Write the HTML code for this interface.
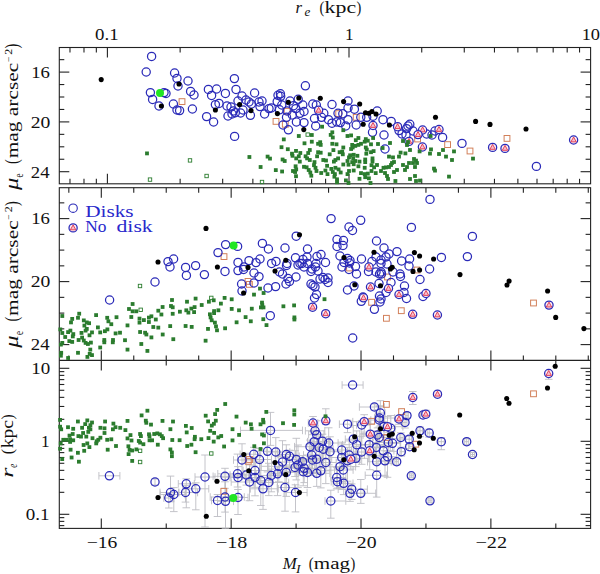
<!DOCTYPE html>
<html><head><meta charset="utf-8"><style>
html,body{margin:0;padding:0;background:#fff;}
svg{display:block;}
text{font-family:"Liberation Serif",serif;}
</style></head><body>
<svg width="600" height="574" viewBox="0 0 600 574">
<rect width="600" height="574" fill="#fff"/>
<rect x="59.3" y="47.5" width="531.30" height="136.30" fill="none" stroke="#222" stroke-width="1.1"/>
<rect x="59.3" y="187.7" width="531.30" height="340.70" fill="none" stroke="#222" stroke-width="1.1"/>
<line x1="59.30" y1="360.40" x2="590.60" y2="360.40" stroke="#222" stroke-width="1.1"/>
<line x1="69.98" y1="47.50" x2="69.98" y2="52.50" stroke="#222" stroke-width="1.1"/>
<line x1="69.98" y1="183.80" x2="69.98" y2="178.80" stroke="#222" stroke-width="1.1"/>
<line x1="83.99" y1="47.50" x2="83.99" y2="52.50" stroke="#222" stroke-width="1.1"/>
<line x1="83.99" y1="183.80" x2="83.99" y2="178.80" stroke="#222" stroke-width="1.1"/>
<line x1="96.34" y1="47.50" x2="96.34" y2="52.50" stroke="#222" stroke-width="1.1"/>
<line x1="96.34" y1="183.80" x2="96.34" y2="178.80" stroke="#222" stroke-width="1.1"/>
<line x1="107.40" y1="47.50" x2="107.40" y2="57.50" stroke="#222" stroke-width="1.1"/>
<line x1="107.40" y1="183.80" x2="107.40" y2="173.80" stroke="#222" stroke-width="1.1"/>
<line x1="180.13" y1="47.50" x2="180.13" y2="52.50" stroke="#222" stroke-width="1.1"/>
<line x1="180.13" y1="183.80" x2="180.13" y2="178.80" stroke="#222" stroke-width="1.1"/>
<line x1="222.67" y1="47.50" x2="222.67" y2="52.50" stroke="#222" stroke-width="1.1"/>
<line x1="222.67" y1="183.80" x2="222.67" y2="178.80" stroke="#222" stroke-width="1.1"/>
<line x1="252.86" y1="47.50" x2="252.86" y2="52.50" stroke="#222" stroke-width="1.1"/>
<line x1="252.86" y1="183.80" x2="252.86" y2="178.80" stroke="#222" stroke-width="1.1"/>
<line x1="276.27" y1="47.50" x2="276.27" y2="52.50" stroke="#222" stroke-width="1.1"/>
<line x1="276.27" y1="183.80" x2="276.27" y2="178.80" stroke="#222" stroke-width="1.1"/>
<line x1="295.40" y1="47.50" x2="295.40" y2="52.50" stroke="#222" stroke-width="1.1"/>
<line x1="295.40" y1="183.80" x2="295.40" y2="178.80" stroke="#222" stroke-width="1.1"/>
<line x1="311.58" y1="47.50" x2="311.58" y2="52.50" stroke="#222" stroke-width="1.1"/>
<line x1="311.58" y1="183.80" x2="311.58" y2="178.80" stroke="#222" stroke-width="1.1"/>
<line x1="325.59" y1="47.50" x2="325.59" y2="52.50" stroke="#222" stroke-width="1.1"/>
<line x1="325.59" y1="183.80" x2="325.59" y2="178.80" stroke="#222" stroke-width="1.1"/>
<line x1="337.94" y1="47.50" x2="337.94" y2="52.50" stroke="#222" stroke-width="1.1"/>
<line x1="337.94" y1="183.80" x2="337.94" y2="178.80" stroke="#222" stroke-width="1.1"/>
<line x1="349.00" y1="47.50" x2="349.00" y2="57.50" stroke="#222" stroke-width="1.1"/>
<line x1="349.00" y1="183.80" x2="349.00" y2="173.80" stroke="#222" stroke-width="1.1"/>
<line x1="421.73" y1="47.50" x2="421.73" y2="52.50" stroke="#222" stroke-width="1.1"/>
<line x1="421.73" y1="183.80" x2="421.73" y2="178.80" stroke="#222" stroke-width="1.1"/>
<line x1="464.27" y1="47.50" x2="464.27" y2="52.50" stroke="#222" stroke-width="1.1"/>
<line x1="464.27" y1="183.80" x2="464.27" y2="178.80" stroke="#222" stroke-width="1.1"/>
<line x1="494.46" y1="47.50" x2="494.46" y2="52.50" stroke="#222" stroke-width="1.1"/>
<line x1="494.46" y1="183.80" x2="494.46" y2="178.80" stroke="#222" stroke-width="1.1"/>
<line x1="517.87" y1="47.50" x2="517.87" y2="52.50" stroke="#222" stroke-width="1.1"/>
<line x1="517.87" y1="183.80" x2="517.87" y2="178.80" stroke="#222" stroke-width="1.1"/>
<line x1="537.00" y1="47.50" x2="537.00" y2="52.50" stroke="#222" stroke-width="1.1"/>
<line x1="537.00" y1="183.80" x2="537.00" y2="178.80" stroke="#222" stroke-width="1.1"/>
<line x1="553.18" y1="47.50" x2="553.18" y2="52.50" stroke="#222" stroke-width="1.1"/>
<line x1="553.18" y1="183.80" x2="553.18" y2="178.80" stroke="#222" stroke-width="1.1"/>
<line x1="567.19" y1="47.50" x2="567.19" y2="52.50" stroke="#222" stroke-width="1.1"/>
<line x1="567.19" y1="183.80" x2="567.19" y2="178.80" stroke="#222" stroke-width="1.1"/>
<line x1="579.54" y1="47.50" x2="579.54" y2="52.50" stroke="#222" stroke-width="1.1"/>
<line x1="579.54" y1="183.80" x2="579.54" y2="178.80" stroke="#222" stroke-width="1.1"/>
<line x1="59.30" y1="59.65" x2="64.30" y2="59.65" stroke="#222" stroke-width="1.1"/>
<line x1="590.60" y1="59.65" x2="585.60" y2="59.65" stroke="#222" stroke-width="1.1"/>
<line x1="59.30" y1="72.10" x2="69.30" y2="72.10" stroke="#222" stroke-width="1.1"/>
<line x1="590.60" y1="72.10" x2="580.60" y2="72.10" stroke="#222" stroke-width="1.1"/>
<line x1="59.30" y1="84.55" x2="64.30" y2="84.55" stroke="#222" stroke-width="1.1"/>
<line x1="590.60" y1="84.55" x2="585.60" y2="84.55" stroke="#222" stroke-width="1.1"/>
<line x1="59.30" y1="97.00" x2="64.30" y2="97.00" stroke="#222" stroke-width="1.1"/>
<line x1="590.60" y1="97.00" x2="585.60" y2="97.00" stroke="#222" stroke-width="1.1"/>
<line x1="59.30" y1="109.45" x2="64.30" y2="109.45" stroke="#222" stroke-width="1.1"/>
<line x1="590.60" y1="109.45" x2="585.60" y2="109.45" stroke="#222" stroke-width="1.1"/>
<line x1="59.30" y1="121.90" x2="69.30" y2="121.90" stroke="#222" stroke-width="1.1"/>
<line x1="590.60" y1="121.90" x2="580.60" y2="121.90" stroke="#222" stroke-width="1.1"/>
<line x1="59.30" y1="134.35" x2="64.30" y2="134.35" stroke="#222" stroke-width="1.1"/>
<line x1="590.60" y1="134.35" x2="585.60" y2="134.35" stroke="#222" stroke-width="1.1"/>
<line x1="59.30" y1="146.80" x2="64.30" y2="146.80" stroke="#222" stroke-width="1.1"/>
<line x1="590.60" y1="146.80" x2="585.60" y2="146.80" stroke="#222" stroke-width="1.1"/>
<line x1="59.30" y1="159.25" x2="64.30" y2="159.25" stroke="#222" stroke-width="1.1"/>
<line x1="590.60" y1="159.25" x2="585.60" y2="159.25" stroke="#222" stroke-width="1.1"/>
<line x1="59.30" y1="171.70" x2="69.30" y2="171.70" stroke="#222" stroke-width="1.1"/>
<line x1="590.60" y1="171.70" x2="580.60" y2="171.70" stroke="#222" stroke-width="1.1"/>
<line x1="588.27" y1="187.70" x2="588.27" y2="192.70" stroke="#222" stroke-width="1.1"/>
<line x1="588.27" y1="360.40" x2="588.27" y2="355.40" stroke="#222" stroke-width="1.1"/>
<line x1="555.81" y1="187.70" x2="555.81" y2="192.70" stroke="#222" stroke-width="1.1"/>
<line x1="555.81" y1="360.40" x2="555.81" y2="355.40" stroke="#222" stroke-width="1.1"/>
<line x1="555.81" y1="360.40" x2="555.81" y2="365.40" stroke="#222" stroke-width="1.1"/>
<line x1="555.81" y1="528.40" x2="555.81" y2="523.40" stroke="#222" stroke-width="1.1"/>
<line x1="523.35" y1="187.70" x2="523.35" y2="192.70" stroke="#222" stroke-width="1.1"/>
<line x1="523.35" y1="360.40" x2="523.35" y2="355.40" stroke="#222" stroke-width="1.1"/>
<line x1="490.88" y1="187.70" x2="490.88" y2="197.70" stroke="#222" stroke-width="1.1"/>
<line x1="490.88" y1="360.40" x2="490.88" y2="350.40" stroke="#222" stroke-width="1.1"/>
<line x1="490.88" y1="360.40" x2="490.88" y2="370.40" stroke="#222" stroke-width="1.1"/>
<line x1="490.88" y1="528.40" x2="490.88" y2="518.40" stroke="#222" stroke-width="1.1"/>
<line x1="458.42" y1="187.70" x2="458.42" y2="192.70" stroke="#222" stroke-width="1.1"/>
<line x1="458.42" y1="360.40" x2="458.42" y2="355.40" stroke="#222" stroke-width="1.1"/>
<line x1="425.95" y1="187.70" x2="425.95" y2="192.70" stroke="#222" stroke-width="1.1"/>
<line x1="425.95" y1="360.40" x2="425.95" y2="355.40" stroke="#222" stroke-width="1.1"/>
<line x1="425.95" y1="360.40" x2="425.95" y2="365.40" stroke="#222" stroke-width="1.1"/>
<line x1="425.95" y1="528.40" x2="425.95" y2="523.40" stroke="#222" stroke-width="1.1"/>
<line x1="393.49" y1="187.70" x2="393.49" y2="192.70" stroke="#222" stroke-width="1.1"/>
<line x1="393.49" y1="360.40" x2="393.49" y2="355.40" stroke="#222" stroke-width="1.1"/>
<line x1="361.02" y1="187.70" x2="361.02" y2="197.70" stroke="#222" stroke-width="1.1"/>
<line x1="361.02" y1="360.40" x2="361.02" y2="350.40" stroke="#222" stroke-width="1.1"/>
<line x1="361.02" y1="360.40" x2="361.02" y2="370.40" stroke="#222" stroke-width="1.1"/>
<line x1="361.02" y1="528.40" x2="361.02" y2="518.40" stroke="#222" stroke-width="1.1"/>
<line x1="328.56" y1="187.70" x2="328.56" y2="192.70" stroke="#222" stroke-width="1.1"/>
<line x1="328.56" y1="360.40" x2="328.56" y2="355.40" stroke="#222" stroke-width="1.1"/>
<line x1="296.09" y1="187.70" x2="296.09" y2="192.70" stroke="#222" stroke-width="1.1"/>
<line x1="296.09" y1="360.40" x2="296.09" y2="355.40" stroke="#222" stroke-width="1.1"/>
<line x1="296.09" y1="360.40" x2="296.09" y2="365.40" stroke="#222" stroke-width="1.1"/>
<line x1="296.09" y1="528.40" x2="296.09" y2="523.40" stroke="#222" stroke-width="1.1"/>
<line x1="263.62" y1="187.70" x2="263.62" y2="192.70" stroke="#222" stroke-width="1.1"/>
<line x1="263.62" y1="360.40" x2="263.62" y2="355.40" stroke="#222" stroke-width="1.1"/>
<line x1="231.16" y1="187.70" x2="231.16" y2="197.70" stroke="#222" stroke-width="1.1"/>
<line x1="231.16" y1="360.40" x2="231.16" y2="350.40" stroke="#222" stroke-width="1.1"/>
<line x1="231.16" y1="360.40" x2="231.16" y2="370.40" stroke="#222" stroke-width="1.1"/>
<line x1="231.16" y1="528.40" x2="231.16" y2="518.40" stroke="#222" stroke-width="1.1"/>
<line x1="198.69" y1="187.70" x2="198.69" y2="192.70" stroke="#222" stroke-width="1.1"/>
<line x1="198.69" y1="360.40" x2="198.69" y2="355.40" stroke="#222" stroke-width="1.1"/>
<line x1="166.23" y1="187.70" x2="166.23" y2="192.70" stroke="#222" stroke-width="1.1"/>
<line x1="166.23" y1="360.40" x2="166.23" y2="355.40" stroke="#222" stroke-width="1.1"/>
<line x1="166.23" y1="360.40" x2="166.23" y2="365.40" stroke="#222" stroke-width="1.1"/>
<line x1="166.23" y1="528.40" x2="166.23" y2="523.40" stroke="#222" stroke-width="1.1"/>
<line x1="133.76" y1="187.70" x2="133.76" y2="192.70" stroke="#222" stroke-width="1.1"/>
<line x1="133.76" y1="360.40" x2="133.76" y2="355.40" stroke="#222" stroke-width="1.1"/>
<line x1="101.30" y1="187.70" x2="101.30" y2="197.70" stroke="#222" stroke-width="1.1"/>
<line x1="101.30" y1="360.40" x2="101.30" y2="350.40" stroke="#222" stroke-width="1.1"/>
<line x1="101.30" y1="360.40" x2="101.30" y2="370.40" stroke="#222" stroke-width="1.1"/>
<line x1="101.30" y1="528.40" x2="101.30" y2="518.40" stroke="#222" stroke-width="1.1"/>
<line x1="68.83" y1="187.70" x2="68.83" y2="192.70" stroke="#222" stroke-width="1.1"/>
<line x1="68.83" y1="360.40" x2="68.83" y2="355.40" stroke="#222" stroke-width="1.1"/>
<line x1="59.30" y1="202.85" x2="64.30" y2="202.85" stroke="#222" stroke-width="1.1"/>
<line x1="590.60" y1="202.85" x2="585.60" y2="202.85" stroke="#222" stroke-width="1.1"/>
<line x1="59.30" y1="218.60" x2="69.30" y2="218.60" stroke="#222" stroke-width="1.1"/>
<line x1="590.60" y1="218.60" x2="580.60" y2="218.60" stroke="#222" stroke-width="1.1"/>
<line x1="59.30" y1="234.35" x2="64.30" y2="234.35" stroke="#222" stroke-width="1.1"/>
<line x1="590.60" y1="234.35" x2="585.60" y2="234.35" stroke="#222" stroke-width="1.1"/>
<line x1="59.30" y1="250.10" x2="64.30" y2="250.10" stroke="#222" stroke-width="1.1"/>
<line x1="590.60" y1="250.10" x2="585.60" y2="250.10" stroke="#222" stroke-width="1.1"/>
<line x1="59.30" y1="265.85" x2="64.30" y2="265.85" stroke="#222" stroke-width="1.1"/>
<line x1="590.60" y1="265.85" x2="585.60" y2="265.85" stroke="#222" stroke-width="1.1"/>
<line x1="59.30" y1="281.60" x2="69.30" y2="281.60" stroke="#222" stroke-width="1.1"/>
<line x1="590.60" y1="281.60" x2="580.60" y2="281.60" stroke="#222" stroke-width="1.1"/>
<line x1="59.30" y1="297.35" x2="64.30" y2="297.35" stroke="#222" stroke-width="1.1"/>
<line x1="590.60" y1="297.35" x2="585.60" y2="297.35" stroke="#222" stroke-width="1.1"/>
<line x1="59.30" y1="313.10" x2="64.30" y2="313.10" stroke="#222" stroke-width="1.1"/>
<line x1="590.60" y1="313.10" x2="585.60" y2="313.10" stroke="#222" stroke-width="1.1"/>
<line x1="59.30" y1="328.85" x2="64.30" y2="328.85" stroke="#222" stroke-width="1.1"/>
<line x1="590.60" y1="328.85" x2="585.60" y2="328.85" stroke="#222" stroke-width="1.1"/>
<line x1="59.30" y1="344.60" x2="69.30" y2="344.60" stroke="#222" stroke-width="1.1"/>
<line x1="590.60" y1="344.60" x2="580.60" y2="344.60" stroke="#222" stroke-width="1.1"/>
<line x1="59.30" y1="525.61" x2="64.30" y2="525.61" stroke="#222" stroke-width="1.1"/>
<line x1="590.60" y1="525.61" x2="585.60" y2="525.61" stroke="#222" stroke-width="1.1"/>
<line x1="59.30" y1="521.37" x2="64.30" y2="521.37" stroke="#222" stroke-width="1.1"/>
<line x1="590.60" y1="521.37" x2="585.60" y2="521.37" stroke="#222" stroke-width="1.1"/>
<line x1="59.30" y1="517.64" x2="64.30" y2="517.64" stroke="#222" stroke-width="1.1"/>
<line x1="590.60" y1="517.64" x2="585.60" y2="517.64" stroke="#222" stroke-width="1.1"/>
<line x1="59.30" y1="514.30" x2="69.30" y2="514.30" stroke="#222" stroke-width="1.1"/>
<line x1="590.60" y1="514.30" x2="580.60" y2="514.30" stroke="#222" stroke-width="1.1"/>
<line x1="59.30" y1="492.32" x2="64.30" y2="492.32" stroke="#222" stroke-width="1.1"/>
<line x1="590.60" y1="492.32" x2="585.60" y2="492.32" stroke="#222" stroke-width="1.1"/>
<line x1="59.30" y1="479.47" x2="64.30" y2="479.47" stroke="#222" stroke-width="1.1"/>
<line x1="590.60" y1="479.47" x2="585.60" y2="479.47" stroke="#222" stroke-width="1.1"/>
<line x1="59.30" y1="470.35" x2="64.30" y2="470.35" stroke="#222" stroke-width="1.1"/>
<line x1="590.60" y1="470.35" x2="585.60" y2="470.35" stroke="#222" stroke-width="1.1"/>
<line x1="59.30" y1="463.28" x2="64.30" y2="463.28" stroke="#222" stroke-width="1.1"/>
<line x1="590.60" y1="463.28" x2="585.60" y2="463.28" stroke="#222" stroke-width="1.1"/>
<line x1="59.30" y1="457.49" x2="64.30" y2="457.49" stroke="#222" stroke-width="1.1"/>
<line x1="590.60" y1="457.49" x2="585.60" y2="457.49" stroke="#222" stroke-width="1.1"/>
<line x1="59.30" y1="452.61" x2="64.30" y2="452.61" stroke="#222" stroke-width="1.1"/>
<line x1="590.60" y1="452.61" x2="585.60" y2="452.61" stroke="#222" stroke-width="1.1"/>
<line x1="59.30" y1="448.37" x2="64.30" y2="448.37" stroke="#222" stroke-width="1.1"/>
<line x1="590.60" y1="448.37" x2="585.60" y2="448.37" stroke="#222" stroke-width="1.1"/>
<line x1="59.30" y1="444.64" x2="64.30" y2="444.64" stroke="#222" stroke-width="1.1"/>
<line x1="590.60" y1="444.64" x2="585.60" y2="444.64" stroke="#222" stroke-width="1.1"/>
<line x1="59.30" y1="441.30" x2="69.30" y2="441.30" stroke="#222" stroke-width="1.1"/>
<line x1="590.60" y1="441.30" x2="580.60" y2="441.30" stroke="#222" stroke-width="1.1"/>
<line x1="59.30" y1="419.32" x2="64.30" y2="419.32" stroke="#222" stroke-width="1.1"/>
<line x1="590.60" y1="419.32" x2="585.60" y2="419.32" stroke="#222" stroke-width="1.1"/>
<line x1="59.30" y1="406.47" x2="64.30" y2="406.47" stroke="#222" stroke-width="1.1"/>
<line x1="590.60" y1="406.47" x2="585.60" y2="406.47" stroke="#222" stroke-width="1.1"/>
<line x1="59.30" y1="397.35" x2="64.30" y2="397.35" stroke="#222" stroke-width="1.1"/>
<line x1="590.60" y1="397.35" x2="585.60" y2="397.35" stroke="#222" stroke-width="1.1"/>
<line x1="59.30" y1="390.28" x2="64.30" y2="390.28" stroke="#222" stroke-width="1.1"/>
<line x1="590.60" y1="390.28" x2="585.60" y2="390.28" stroke="#222" stroke-width="1.1"/>
<line x1="59.30" y1="384.49" x2="64.30" y2="384.49" stroke="#222" stroke-width="1.1"/>
<line x1="590.60" y1="384.49" x2="585.60" y2="384.49" stroke="#222" stroke-width="1.1"/>
<line x1="59.30" y1="379.61" x2="64.30" y2="379.61" stroke="#222" stroke-width="1.1"/>
<line x1="590.60" y1="379.61" x2="585.60" y2="379.61" stroke="#222" stroke-width="1.1"/>
<line x1="59.30" y1="375.37" x2="64.30" y2="375.37" stroke="#222" stroke-width="1.1"/>
<line x1="590.60" y1="375.37" x2="585.60" y2="375.37" stroke="#222" stroke-width="1.1"/>
<line x1="59.30" y1="371.64" x2="64.30" y2="371.64" stroke="#222" stroke-width="1.1"/>
<line x1="590.60" y1="371.64" x2="585.60" y2="371.64" stroke="#222" stroke-width="1.1"/>
<line x1="59.30" y1="368.30" x2="69.30" y2="368.30" stroke="#222" stroke-width="1.1"/>
<line x1="590.60" y1="368.30" x2="580.60" y2="368.30" stroke="#222" stroke-width="1.1"/>
<text x="95.05" y="39.70" font-size="17.30" fill="#111" textLength="23.56" lengthAdjust="spacingAndGlyphs">0.1</text>
<text x="344.95" y="39.60" font-size="17.30" fill="#111" textLength="8.61" lengthAdjust="spacingAndGlyphs">1</text>
<text x="581.67" y="39.50" font-size="17.30" fill="#111" textLength="18.36" lengthAdjust="spacingAndGlyphs">10</text>
<text x="86.70" y="548.20" font-size="17.00" fill="#111" textLength="30.63" lengthAdjust="spacingAndGlyphs">−16</text>
<text x="215.95" y="548.20" font-size="17.00" fill="#111" textLength="31.41" lengthAdjust="spacingAndGlyphs">−18</text>
<text x="345.70" y="548.20" font-size="17.00" fill="#111" textLength="30.85" lengthAdjust="spacingAndGlyphs">−20</text>
<text x="475.45" y="548.20" font-size="17.00" fill="#111" textLength="31.71" lengthAdjust="spacingAndGlyphs">−22</text>
<text x="31.20" y="78.00" font-size="17.00" fill="#111" textLength="18.69" lengthAdjust="spacingAndGlyphs">16</text>
<text x="30.75" y="127.70" font-size="17.00" fill="#111" textLength="19.63" lengthAdjust="spacingAndGlyphs">20</text>
<text x="30.75" y="177.60" font-size="17.00" fill="#111" textLength="18.75" lengthAdjust="spacingAndGlyphs">24</text>
<text x="31.20" y="224.20" font-size="17.00" fill="#111" textLength="18.69" lengthAdjust="spacingAndGlyphs">16</text>
<text x="30.75" y="287.20" font-size="17.00" fill="#111" textLength="19.63" lengthAdjust="spacingAndGlyphs">20</text>
<text x="30.75" y="350.00" font-size="17.00" fill="#111" textLength="18.75" lengthAdjust="spacingAndGlyphs">24</text>
<text x="31.15" y="374.00" font-size="17.00" fill="#111" textLength="18.98" lengthAdjust="spacingAndGlyphs">10</text>
<text x="40.95" y="446.70" font-size="17.00" fill="#111" textLength="8.61" lengthAdjust="spacingAndGlyphs">1</text>
<text x="25.75" y="519.70" font-size="17.00" fill="#111" textLength="23.73" lengthAdjust="spacingAndGlyphs">0.1</text>
<text x="85.20" y="216.50" font-size="17.00" fill="#2828cc" textLength="48.44" lengthAdjust="spacingAndGlyphs">Disks</text>
<text x="85.20" y="231.50" font-size="17.00" fill="#2828cc" textLength="21.20" lengthAdjust="spacingAndGlyphs">No</text>
<text x="116.50" y="231.50" font-size="17.00" fill="#2828cc" textLength="36.20" lengthAdjust="spacingAndGlyphs">disk</text>
<text x="295.60" y="12.70" font-size="16" font-style="italic" fill="#111" textLength="6.5" lengthAdjust="spacingAndGlyphs">r</text>
<text x="304.60" y="16.00" font-size="11.5" font-style="italic" fill="#111" textLength="5.8" lengthAdjust="spacingAndGlyphs">e</text>
<text x="319.60" y="12.70" font-size="17.5" fill="#111" textLength="4.8" lengthAdjust="spacingAndGlyphs">(</text>
<text x="324.60" y="12.70" font-size="16" fill="#111" textLength="31.5" lengthAdjust="spacingAndGlyphs">kpc</text>
<text x="356.40" y="12.70" font-size="17.5" fill="#111" textLength="4.8" lengthAdjust="spacingAndGlyphs">)</text>
<text x="282.80" y="569.30" font-size="16.5" font-style="italic" fill="#111" textLength="14.0" lengthAdjust="spacingAndGlyphs">M</text>
<text x="296.00" y="572.60" font-size="11.5" font-style="italic" fill="#111" textLength="4.6" lengthAdjust="spacingAndGlyphs">I</text>
<text x="308.80" y="569.30" font-size="17.5" fill="#111" textLength="4.8" lengthAdjust="spacingAndGlyphs">(</text>
<text x="313.80" y="569.30" font-size="16.5" fill="#111" textLength="36.2" lengthAdjust="spacingAndGlyphs">mag</text>
<text x="350.40" y="569.30" font-size="17.5" fill="#111" textLength="4.8" lengthAdjust="spacingAndGlyphs">)</text>
<text transform="translate(17.70,189.90) rotate(-90)" x="-0.20" y="0.00" font-size="18" font-style="italic" fill="#111" textLength="12.4" lengthAdjust="spacingAndGlyphs">μ</text>
<text transform="translate(17.70,189.90) rotate(-90)" x="12.20" y="5.30" font-size="12.5" fill="#111" textLength="4.4" lengthAdjust="spacingAndGlyphs">e</text>
<text transform="translate(17.70,189.90) rotate(-90)" x="25.90" y="0.00" font-size="18.5" fill="#111" textLength="4.8" lengthAdjust="spacingAndGlyphs">(</text>
<text transform="translate(17.70,189.90) rotate(-90)" x="31.60" y="0.00" font-size="16.5" fill="#111" textLength="95.6" lengthAdjust="spacingAndGlyphs">mag arcsec</text>
<text transform="translate(17.70,189.90) rotate(-90)" x="127.80" y="-5.70" font-size="10" fill="#111" textLength="5.4" lengthAdjust="spacingAndGlyphs">−</text>
<text transform="translate(17.70,189.90) rotate(-90)" x="135.20" y="-5.70" font-size="9.5" fill="#111" textLength="6.0" lengthAdjust="spacingAndGlyphs">2</text>
<text transform="translate(17.70,189.90) rotate(-90)" x="141.40" y="0.00" font-size="18.5" fill="#111" textLength="4.8" lengthAdjust="spacingAndGlyphs">)</text>
<text transform="translate(17.70,347.50) rotate(-90)" x="-0.20" y="0.00" font-size="18" font-style="italic" fill="#111" textLength="12.4" lengthAdjust="spacingAndGlyphs">μ</text>
<text transform="translate(17.70,347.50) rotate(-90)" x="12.20" y="5.30" font-size="12.5" fill="#111" textLength="4.4" lengthAdjust="spacingAndGlyphs">e</text>
<text transform="translate(17.70,347.50) rotate(-90)" x="25.90" y="0.00" font-size="18.5" fill="#111" textLength="4.8" lengthAdjust="spacingAndGlyphs">(</text>
<text transform="translate(17.70,347.50) rotate(-90)" x="31.60" y="0.00" font-size="16.5" fill="#111" textLength="95.6" lengthAdjust="spacingAndGlyphs">mag arcsec</text>
<text transform="translate(17.70,347.50) rotate(-90)" x="127.80" y="-5.70" font-size="10" fill="#111" textLength="5.4" lengthAdjust="spacingAndGlyphs">−</text>
<text transform="translate(17.70,347.50) rotate(-90)" x="135.20" y="-5.70" font-size="9.5" fill="#111" textLength="6.0" lengthAdjust="spacingAndGlyphs">2</text>
<text transform="translate(17.70,347.50) rotate(-90)" x="141.40" y="0.00" font-size="18.5" fill="#111" textLength="4.8" lengthAdjust="spacingAndGlyphs">)</text>
<text transform="translate(12.70,477.30) rotate(-90)" x="-0.40" y="0.00" font-size="16" font-style="italic" fill="#111" textLength="10.2" lengthAdjust="spacingAndGlyphs">r</text>
<text transform="translate(12.70,477.30) rotate(-90)" x="9.60" y="4.30" font-size="11.5" font-style="italic" fill="#111" textLength="3.9" lengthAdjust="spacingAndGlyphs">e</text>
<text transform="translate(12.70,477.30) rotate(-90)" x="23.10" y="0.00" font-size="17.5" fill="#111" textLength="5.2" lengthAdjust="spacingAndGlyphs">(</text>
<text transform="translate(12.70,477.30) rotate(-90)" x="29.00" y="0.00" font-size="16" fill="#111" textLength="28.3" lengthAdjust="spacingAndGlyphs">kpc</text>
<text transform="translate(12.70,477.30) rotate(-90)" x="57.80" y="0.00" font-size="17.5" fill="#111" textLength="5.2" lengthAdjust="spacingAndGlyphs">)</text>
<circle cx="73.1" cy="208.2" r="4.2" fill="none" stroke="#2a2ab8" stroke-width="1.1"/>
<path d="M98.9,475.8H119.9M98.9,472.0V479.6M119.9,472.0V479.6M155.0,479.0V485.0M151.2,479.0H158.8M151.2,485.0H158.8M163.8,498.0H173.8M163.8,494.2V501.8M173.8,494.2V501.8M168.8,494.0V508.0M165.0,494.0H172.6M165.0,508.0H172.6M160.0,492.5H178.6M160.0,488.7V496.3M178.6,488.7V496.3M170.5,476.1V501.8M166.7,476.1H174.3M166.7,501.8H174.3M160.3,494.5H184.9M160.3,490.7V498.3M184.9,490.7V498.3M173.8,487.6V511.6M170.0,487.6H177.6M170.0,511.6H177.6M178.3,483.8H194.3M178.3,480.0V487.6M194.3,480.0V487.6M186.3,478.8V507.8M182.5,478.8H190.1M182.5,507.8H190.1M179.0,492.5H197.6M179.0,488.7V496.3M197.6,488.7V496.3M185.5,485.4V502.1M181.7,485.4H189.3M181.7,502.1H189.3M182.8,488.8H208.8M182.8,485.0V492.6M208.8,485.0V492.6M195.8,482.8V509.8M192.0,482.8H199.6M192.0,509.8H199.6M195.0,477.0H215.0M195.0,473.2V480.8M215.0,473.2V480.8M205.0,455.0V527.0M201.2,455.0H208.8M201.2,527.0H208.8M213.1,476.3H242.6M213.1,472.5V480.1M242.6,472.5V480.1M225.0,468.3V488.3M221.2,468.3H228.8M221.2,488.3H228.8M211.5,500.5H223.5M211.5,496.7V504.3M223.5,496.7V504.3M217.5,494.5V516.5M213.7,494.5H221.3M213.7,516.5H221.3M210.2,497.0H244.3M210.2,493.2V500.8M244.3,493.2V500.8M225.0,481.8V512.1M221.2,481.8H228.8M221.2,512.1H228.8M217.5,501.3H233.5M217.5,497.5V505.1M233.5,497.5V505.1M225.5,477.3V528.3M221.7,477.3H229.3M221.7,528.3H229.3M228.0,497.5H248.0M228.0,493.7V501.3M248.0,493.7V501.3M238.0,489.5V514.5M234.2,489.5H241.8M234.2,514.5H241.8M217.8,473.8H244.2M217.8,470.0V477.6M244.2,470.0V477.6M237.5,454.1V487.0M233.7,454.1H241.3M233.7,487.0H241.3M230.0,477.5H245.6M230.0,473.7V481.3M245.6,473.7V481.3M238.0,466.6V500.2M234.2,466.6H241.8M234.2,500.2H241.8M233.5,460.0H256.1M233.5,456.2V463.8M256.1,456.2V463.8M242.0,443.8V474.7M238.2,443.8H245.8M238.2,474.7H245.8M240.1,454.3H260.7M240.1,450.5V458.1M260.7,450.5V458.1M253.8,447.3V466.0M250.0,447.3H257.6M250.0,466.0H257.6M244.0,459.5H271.5M244.0,455.7V463.3M271.5,455.7V463.3M259.5,448.5V478.0M255.7,448.5H263.3M255.7,478.0H263.3M255.2,451.3H277.7M255.2,447.5V455.1M277.7,447.5V455.1M267.5,432.6V471.9M263.7,432.6H271.3M263.7,471.9H271.3M266.4,452.0H289.8M266.4,448.2V455.8M289.8,448.2V455.8M275.8,437.6V475.8M272.0,437.6H279.6M272.0,475.8H279.6M240.5,430.4H302.5M240.5,426.6V434.2M302.5,426.6V434.2M270.5,412.4V445.4M266.7,412.4H274.3M266.7,445.4H274.3M230.1,475.0H256.3M230.1,471.2V478.8M256.3,471.2V478.8M246.3,453.3V485.1M242.5,453.3H250.1M242.5,485.1H250.1M243.1,470.5H271.6M243.1,466.7V474.3M271.6,466.7V474.3M255.0,462.1V487.3M251.2,462.1H258.8M251.2,487.3H258.8M248.5,477.5H270.4M248.5,473.7V481.3M270.4,473.7V481.3M255.0,459.3V495.8M251.2,459.3H258.8M251.2,495.8H258.8M231.2,482.0H259.9M231.2,478.2V485.8M259.9,478.2V485.8M249.5,464.9V500.7M245.7,464.9H253.3M245.7,500.7H253.3M246.7,480.5H273.2M246.7,476.7V484.3M273.2,476.7V484.3M260.8,461.1V505.5M257.0,461.1H264.6M257.0,505.5H264.6M250.4,488.8H278.3M250.4,485.0V492.6M278.3,485.0V492.6M263.0,481.8V509.4M259.2,481.8H266.8M259.2,509.4H266.8M253.7,482.5H288.7M253.7,478.7V486.3M288.7,478.7V486.3M268.8,463.3V495.6M265.0,463.3H272.6M265.0,495.6H272.6M259.9,475.5H286.7M259.9,471.7V479.3M286.7,471.7V479.3M271.3,469.1V491.8M267.5,469.1H275.1M267.5,491.8H275.1M269.1,473.8H285.1M269.1,470.0V477.6M285.1,470.0V477.6M277.5,466.9V495.6M273.7,466.9H281.3M273.7,495.6H281.3M277.2,487.5H294.5M277.2,483.7V491.3M294.5,483.7V491.3M285.0,475.2V511.2M281.2,475.2H288.8M281.2,511.2H288.8M279.2,472.5H298.6M279.2,468.7V476.3M298.6,468.7V476.3M286.3,457.7V496.4M282.5,457.7H290.1M282.5,496.4H290.1M261.3,466.3H296.9M261.3,462.5V470.1M296.9,462.5V470.1M278.8,455.8V481.8M275.0,455.8H282.6M275.0,481.8H282.6M271.5,462.0H300.9M271.5,458.2V465.8M300.9,458.2V465.8M282.5,440.7V472.7M278.7,440.7H286.3M278.7,472.7H286.3M277.8,454.5H295.5M277.8,450.7V458.3M295.5,450.7V458.3M286.3,444.8V471.2M282.5,444.8H290.1M282.5,471.2H290.1M275.3,456.3H299.2M275.3,452.5V460.1M299.2,452.5V460.1M289.5,450.2V471.8M285.7,450.2H293.3M285.7,471.8H293.3M285.1,459.5H310.2M285.1,455.7V463.3M310.2,455.7V463.3M296.3,438.3V479.9M292.5,438.3H300.1M292.5,479.9H300.1M281.8,467.5H309.6M281.8,463.7V471.3M309.6,463.7V471.3M295.0,450.7V476.5M291.2,450.7H298.8M291.2,476.5H298.8M279.4,465.0H314.9M279.4,461.2V468.8M314.9,461.2V468.8M298.0,445.0V487.4M294.2,445.0H301.8M294.2,487.4H301.8M284.0,492.5H307.1M284.0,488.7V496.3M307.1,488.7V496.3M295.5,484.8V511.9M291.7,484.8H299.3M291.7,511.9H299.3M308.3,423.0H317.8M308.3,419.2V426.8M317.8,419.2V426.8M313.0,416.5V431.6M309.2,416.5H316.8M309.2,431.6H316.8M322.8,420.8H328.8M322.8,417.0V424.6M328.8,417.0V424.6M325.8,408.8V423.8M322.0,408.8H329.6M322.0,423.8H329.6M339.4,424.2H352.1M339.4,420.4V428.0M352.1,420.4V428.0M347.5,420.2V432.6M343.7,420.2H351.3M343.7,432.6H351.3M356.5,425.0H370.1M356.5,421.2V428.8M370.1,421.2V428.8M361.7,420.7V445.0M357.9,420.7H365.5M357.9,445.0H365.5M352.8,421.7H370.0M352.8,417.9V425.5M370.0,417.9V425.5M364.2,414.7V433.3M360.4,414.7H368.0M360.4,433.3H368.0M370.8,420.0H384.7M370.8,416.2V423.8M384.7,416.2V423.8M379.2,405.8V441.9M375.4,405.8H383.0M375.4,441.9H383.0M305.4,430.8H324.8M305.4,427.0V434.6M324.8,427.0V434.6M315.0,425.8V438.4M311.2,425.8H318.8M311.2,438.4H318.8M308.6,434.7H323.9M308.6,430.9V438.5M323.9,430.9V438.5M316.7,420.8V443.3M312.9,420.8H320.5M312.9,443.3H320.5M383.2,426.7H402.9M383.2,422.9V430.5M402.9,422.9V430.5M387.5,416.4V435.0M383.7,416.4H391.3M383.7,435.0H391.3M359.8,434.2H374.6M359.8,430.4V438.0M374.6,430.4V438.0M370.3,423.9V455.9M366.5,423.9H374.1M366.5,455.9H374.1M363.1,435.0H389.9M363.1,431.2V438.8M389.9,431.2V438.8M377.5,427.9V446.9M373.7,427.9H381.3M373.7,446.9H381.3M373.2,437.5H392.5M373.2,433.7V441.3M392.5,433.7V441.3M379.2,427.1V456.0M375.4,427.1H383.0M375.4,456.0H383.0M345.3,439.2H360.0M345.3,435.4V443.0M360.0,435.4V443.0M353.3,425.5V461.0M349.5,425.5H357.1M349.5,461.0H357.1M342.5,444.7H370.4M342.5,440.9V448.5M370.4,440.9V448.5M356.7,430.9V462.5M352.9,430.9H360.5M352.9,462.5H360.5M307.5,441.7H324.4M307.5,437.9V445.5M324.4,437.9V445.5M314.2,433.4V448.2M310.4,433.4H318.0M310.4,448.2H318.0M318.2,441.3H329.9M318.2,437.5V445.1M329.9,437.5V445.1M322.5,434.2V458.4M318.7,434.2H326.3M318.7,458.4H326.3M313.2,443.0H338.1M313.2,439.2V446.8M338.1,439.2V446.8M328.7,427.8V464.8M324.9,427.8H332.5M324.9,464.8H332.5M294.5,446.7H318.4M294.5,442.9V450.5M318.4,442.9V450.5M310.0,440.1V456.3M306.2,440.1H313.8M306.2,456.3H313.8M312.8,447.5H325.7M312.8,443.7V451.3M325.7,443.7V451.3M319.2,436.0V467.9M315.4,436.0H323.0M315.4,467.9H323.0M309.2,449.2H333.1M309.2,445.4V453.0M333.1,445.4V453.0M323.3,437.4V468.0M319.5,437.4H327.1M319.5,468.0H327.1M325.0,451.7H341.9M325.0,447.9V455.5M341.9,447.9V455.5M330.0,436.8V470.2M326.2,436.8H333.8M326.2,470.2H333.8M328.7,450.0H351.4M328.7,446.2V453.8M351.4,446.2V453.8M341.7,443.9V468.6M337.9,443.9H345.5M337.9,468.6H345.5M353.7,452.0H375.3M353.7,448.2V455.8M375.3,448.2V455.8M361.7,436.3V464.3M357.9,436.3H365.5M357.9,464.3H365.5M360.4,444.7H384.6M360.4,440.9V448.5M384.6,440.9V448.5M369.2,432.0V453.4M365.4,432.0H373.0M365.4,453.4H373.0M364.2,450.8H375.5M364.2,447.0V454.6M375.5,447.0V454.6M369.7,435.9V469.7M365.9,435.9H373.5M365.9,469.7H373.5M370.5,447.5H390.2M370.5,443.7V451.3M390.2,443.7V451.3M376.3,431.7V464.0M372.5,431.7H380.1M372.5,464.0H380.1M375.1,450.8H393.9M375.1,447.0V454.6M393.9,447.0V454.6M383.3,445.2V457.0M379.5,445.2H387.1M379.5,457.0H387.1M372.6,442.5H400.1M372.6,438.7V446.3M400.1,438.7V446.3M388.3,432.2V463.4M384.5,432.2H392.1M384.5,463.4H392.1M367.5,461.7H391.2M367.5,457.9V465.5M391.2,457.9V465.5M376.7,447.8V471.1M372.9,447.8H380.5M372.9,471.1H380.5M378.0,460.8H392.5M378.0,457.0V464.6M392.5,457.0V464.6M385.0,453.9V476.2M381.2,453.9H388.8M381.2,476.2H388.8M380.4,456.7H396.5M380.4,452.9V460.5M396.5,452.9V460.5M387.5,451.1V477.3M383.7,451.1H391.3M383.7,477.3H391.3M303.5,455.0H321.2M303.5,451.2V458.8M321.2,451.2V458.8M311.7,444.0V475.5M307.9,444.0H315.5M307.9,475.5H315.5M307.7,459.2H331.7M307.7,455.4V463.0M331.7,455.4V463.0M316.7,449.2V473.7M312.9,449.2H320.5M312.9,473.7H320.5M302.2,460.0H316.7M302.2,456.2V463.8M316.7,456.2V463.8M312.5,450.7V468.9M308.7,450.7H316.3M308.7,468.9H316.3M298.5,461.7H316.1M298.5,457.9V465.5M316.1,457.9V465.5M302.5,455.6V475.3M298.7,455.6H306.3M298.7,475.3H306.3M291.5,468.3H314.9M291.5,464.5V472.1M314.9,464.5V472.1M304.2,460.4V482.6M300.4,460.4H308.0M300.4,482.6H308.0M296.8,472.5H320.9M296.8,468.7V476.3M320.9,468.7V476.3M307.5,467.2V487.5M303.7,467.2H311.3M303.7,487.5H311.3M296.3,471.7H310.6M296.3,467.9V475.5M310.6,467.9V475.5M303.3,458.4V485.8M299.5,458.4H307.1M299.5,485.8H307.1M306.0,473.3H329.8M306.0,469.5V477.1M329.8,469.5V477.1M316.7,458.4V486.4M312.9,458.4H320.5M312.9,486.4H320.5M309.4,470.8H330.9M309.4,467.0V474.6M330.9,467.0V474.6M320.8,460.7V487.9M317.0,460.7H324.6M317.0,487.9H324.6M316.4,462.5H336.2M316.4,458.7V466.3M336.2,458.7V466.3M325.8,452.8V483.6M322.0,452.8H329.6M322.0,483.6H329.6M329.3,457.5H356.2M329.3,453.7V461.3M356.2,453.7V461.3M341.7,442.2V467.7M337.9,442.2H345.5M337.9,467.7H345.5M338.5,455.0H364.5M338.5,451.2V458.8M364.5,451.2V458.8M349.2,440.9V463.2M345.4,440.9H353.0M345.4,463.2H353.0M345.3,459.2H360.1M345.3,455.4V463.0M360.1,455.4V463.0M350.8,454.3V469.1M347.0,454.3H354.6M347.0,469.1H354.6M342.6,460.8H359.5M342.6,457.0V464.6M359.5,457.0V464.6M347.5,447.4V481.2M343.7,447.4H351.3M343.7,481.2H351.3M349.9,458.3H368.4M349.9,454.5V462.1M368.4,454.5V462.1M355.8,446.4V466.6M352.0,446.4H359.6M352.0,466.6H359.6M325.4,466.7H355.6M325.4,462.9V470.5M355.6,462.9V470.5M340.0,460.1V487.9M336.2,460.1H343.8M336.2,487.9H343.8M334.5,470.0H353.1M334.5,466.2V473.8M353.1,466.2V473.8M343.3,454.1V489.3M339.5,454.1H347.1M339.5,489.3H347.1M330.8,477.5H345.9M330.8,473.7V481.3M345.9,473.7V481.3M336.7,467.3V488.9M332.9,467.3H340.5M332.9,488.9H340.5M331.2,481.7H345.3M331.2,477.9V485.5M345.3,477.9V485.5M337.5,469.0V488.0M333.7,469.0H341.3M333.7,488.0H341.3M333.1,483.3H353.0M333.1,479.5V487.1M353.0,479.5V487.1M343.7,479.1V494.6M339.9,479.1H347.5M339.9,494.6H347.5M365.2,475.3H386.8M365.2,471.5V479.1M386.8,471.5V479.1M376.7,470.5V497.1M372.9,470.5H380.5M372.9,497.1H380.5M338.2,489.2H367.4M338.2,485.4V493.0M367.4,485.4V493.0M351.7,483.9V499.4M347.9,483.9H355.5M347.9,499.4H355.5M345.5,493.3H363.3M345.5,489.5V497.1M363.3,489.5V497.1M350.0,486.1V501.4M346.2,486.1H353.8M346.2,501.4H353.8M351.7,493.3H375.7M351.7,489.5V497.1M375.7,489.5V497.1M360.8,479.5V503.4M357.0,479.5H364.6M357.0,503.4H364.6M325.0,501.0H345.8M325.0,497.2V504.8M345.8,497.2V504.8M330.8,490.2V518.2M327.0,490.2H334.6M327.0,518.2H334.6M342.1,385.0H363.1M342.1,381.2V388.8M363.1,381.2V388.8M359.4,407.0H384.4M359.4,403.2V410.8M384.4,403.2V410.8M374.4,404.0V410.0M370.6,404.0H378.2M370.6,410.0H378.2M375.3,413.0H385.1M375.3,409.2V416.8M385.1,409.2V416.8M380.4,400.7V425.8M376.6,400.7H384.2M376.6,425.8H384.2M374.5,418.0H394.7M374.5,414.2V421.8M394.7,414.2V421.8M379.4,406.4V436.8M375.6,406.4H383.2M375.6,436.8H383.2M397.7,419.0H402.6M397.7,415.2V422.8M402.6,415.2V422.8M399.0,417.7V424.3M395.2,417.7H402.8M395.2,424.3H402.8M402.6,422.4H407.0M402.6,418.6V426.2M407.0,418.6V426.2M405.0,419.2V428.0M401.2,419.2H408.8M401.2,428.0H408.8M405.2,415.6H408.4M405.2,411.8V419.4M408.4,411.8V419.4M407.0,412.5V417.8M403.2,412.5H410.8M403.2,417.8H410.8M378.7,426.4H389.9M378.7,422.6V430.2M389.9,422.6V430.2M384.0,421.8V435.6M380.2,421.8H387.8M380.2,435.6H387.8M412.8,391.5V404.5M409.0,391.5H416.6M409.0,404.5H416.6M437.5,392.2V396.2M433.7,392.2H441.3M433.7,396.2H441.3M423.9,414.2H427.7M423.9,410.4V418.0M427.7,410.4V418.0M425.8,410.2V416.6M422.0,410.2H429.6M422.0,416.6H429.6M420.5,415.0H424.5M420.5,411.2V418.8M424.5,411.2V418.8M423.0,412.6V416.1M419.2,412.6H426.8M419.2,416.1H426.8M383.8,428.3H395.0M383.8,424.5V432.1M395.0,424.5V432.1M390.8,415.5V443.1M387.0,415.5H394.6M387.0,443.1H394.6M399.2,437.5H403.2M399.2,433.7V441.3M403.2,433.7V441.3M400.8,432.8V439.0M397.0,432.8H404.6M397.0,439.0H404.6M405.7,439.2H411.5M405.7,435.4V443.0M411.5,435.4V443.0M409.2,436.2V444.4M405.4,436.2H413.0M405.4,444.4H413.0M417.8,430.8H422.5M417.8,427.0V434.6M422.5,427.0V434.6M420.0,427.0V436.7M416.2,427.0H423.8M416.2,436.7H423.8M427.2,433.0H432.7M427.2,429.2V436.8M432.7,429.2V436.8M429.2,429.2V437.2M425.4,429.2H433.0M425.4,437.2H433.0M438.3,441.7H444.3M438.3,437.9V445.5M444.3,437.9V445.5M441.3,437.7V449.7M437.5,437.7H445.1M437.5,449.7H445.1M464.7,441.7H468.7M464.7,437.9V445.5M468.7,437.9V445.5M466.7,438.7V444.7M462.9,438.7H470.5M462.9,444.7H470.5M470.5,454.5H474.5M470.5,450.7V458.3M474.5,450.7V458.3M472.5,452.5V456.5M468.7,452.5H476.3M468.7,456.5H476.3M383.6,443.3H400.7M383.6,439.5V447.1M400.7,439.5V447.1M392.5,438.6V451.4M388.7,438.6H396.3M388.7,451.4H396.3M408.5,446.7H412.9M408.5,442.9V450.5M412.9,442.9V450.5M409.7,444.7V448.5M405.9,444.7H413.5M405.9,448.5H413.5M400.0,451.7H404.8M400.0,447.9V455.5M404.8,447.9V455.5M401.3,447.2V456.1M397.5,447.2H405.1M397.5,456.1H405.1M394.9,461.7H398.4M394.9,457.9V465.5M398.4,457.9V465.5M396.7,459.5V465.0M392.9,459.5H400.5M392.9,465.0H400.5M409.3,475.8H413.3M409.3,472.0V479.6M413.3,472.0V479.6M411.3,473.8V477.8M407.5,473.8H415.1M407.5,477.8H415.1M428.0,500.8H432.0M428.0,497.0V504.6M432.0,497.0V504.6M430.0,498.8V502.8M426.2,498.8H433.8M426.2,502.8H433.8M547.2,373.5H551.0M547.2,369.7V377.3M551.0,369.7V377.3M548.7,371.4V379.3M544.9,371.4H552.5M544.9,379.3H552.5" fill="none" stroke="#bdbdc4" stroke-width="0.9"/>
<rect x="179.10" y="98.70" width="5.8" height="5.8" fill="none" stroke="#d2805a" stroke-width="1"/>
<rect x="284.20" y="108.40" width="5.8" height="5.8" fill="none" stroke="#d2805a" stroke-width="1"/>
<rect x="273.10" y="118.50" width="5.8" height="5.8" fill="none" stroke="#d2805a" stroke-width="1"/>
<rect x="282.40" y="121.40" width="5.8" height="5.8" fill="none" stroke="#d2805a" stroke-width="1"/>
<rect x="335.80" y="110.70" width="5.8" height="5.8" fill="none" stroke="#d2805a" stroke-width="1"/>
<rect x="353.30" y="114.40" width="5.8" height="5.8" fill="none" stroke="#d2805a" stroke-width="1"/>
<rect x="414.70" y="136.10" width="5.8" height="5.8" fill="none" stroke="#d2805a" stroke-width="1"/>
<rect x="444.70" y="141.70" width="5.8" height="5.8" fill="none" stroke="#d2805a" stroke-width="1"/>
<rect x="467.10" y="148.10" width="5.8" height="5.8" fill="none" stroke="#d2805a" stroke-width="1"/>
<rect x="504.10" y="135.50" width="5.8" height="5.8" fill="none" stroke="#d2805a" stroke-width="1"/>
<rect x="221.10" y="253.70" width="5.8" height="5.8" fill="none" stroke="#d2805a" stroke-width="1"/>
<rect x="245.10" y="278.50" width="5.8" height="5.8" fill="none" stroke="#d2805a" stroke-width="1"/>
<rect x="246.50" y="281.50" width="5.8" height="5.8" fill="none" stroke="#d2805a" stroke-width="1"/>
<rect x="346.60" y="265.10" width="5.8" height="5.8" fill="none" stroke="#d2805a" stroke-width="1"/>
<rect x="414.10" y="267.10" width="5.8" height="5.8" fill="none" stroke="#d2805a" stroke-width="1"/>
<rect x="384.60" y="274.10" width="5.8" height="5.8" fill="none" stroke="#d2805a" stroke-width="1"/>
<rect x="368.70" y="299.40" width="5.8" height="5.8" fill="none" stroke="#d2805a" stroke-width="1"/>
<rect x="383.50" y="315.40" width="5.8" height="5.8" fill="none" stroke="#d2805a" stroke-width="1"/>
<rect x="398.40" y="307.80" width="5.8" height="5.8" fill="none" stroke="#d2805a" stroke-width="1"/>
<rect x="530.60" y="300.10" width="5.8" height="5.8" fill="none" stroke="#d2805a" stroke-width="1"/>
<rect x="220.90" y="488.40" width="5.8" height="5.8" fill="none" stroke="#d2805a" stroke-width="1"/>
<rect x="245.40" y="458.40" width="5.8" height="5.8" fill="none" stroke="#d2805a" stroke-width="1"/>
<rect x="246.60" y="456.60" width="5.8" height="5.8" fill="none" stroke="#d2805a" stroke-width="1"/>
<rect x="368.80" y="418.40" width="5.8" height="5.8" fill="none" stroke="#d2805a" stroke-width="1"/>
<rect x="383.50" y="401.50" width="5.8" height="5.8" fill="none" stroke="#d2805a" stroke-width="1"/>
<rect x="398.70" y="408.70" width="5.8" height="5.8" fill="none" stroke="#d2805a" stroke-width="1"/>
<rect x="383.80" y="434.60" width="5.8" height="5.8" fill="none" stroke="#d2805a" stroke-width="1"/>
<rect x="412.90" y="441.30" width="5.8" height="5.8" fill="none" stroke="#d2805a" stroke-width="1"/>
<rect x="530.60" y="390.90" width="5.8" height="5.8" fill="none" stroke="#d2805a" stroke-width="1"/>
<circle cx="151.6" cy="56.4" r="4.1" fill="none" stroke="#2a2ab8" stroke-width="1.25"/>
<circle cx="146.2" cy="72.0" r="4.1" fill="none" stroke="#2a2ab8" stroke-width="1.25"/>
<circle cx="150.4" cy="92.6" r="4.1" fill="none" stroke="#2a2ab8" stroke-width="1.25"/>
<circle cx="152.6" cy="99.4" r="4.1" fill="none" stroke="#2a2ab8" stroke-width="1.25"/>
<circle cx="164.0" cy="92.6" r="4.1" fill="none" stroke="#2a2ab8" stroke-width="1.25"/>
<circle cx="166.0" cy="93.5" r="4.1" fill="none" stroke="#2a2ab8" stroke-width="1.25"/>
<circle cx="159.0" cy="106.0" r="4.1" fill="none" stroke="#2a2ab8" stroke-width="1.25"/>
<circle cx="174.6" cy="73.0" r="4.1" fill="none" stroke="#2a2ab8" stroke-width="1.25"/>
<circle cx="177.0" cy="78.4" r="4.1" fill="none" stroke="#2a2ab8" stroke-width="1.25"/>
<circle cx="188.0" cy="81.0" r="4.1" fill="none" stroke="#2a2ab8" stroke-width="1.25"/>
<circle cx="178.0" cy="86.0" r="4.1" fill="none" stroke="#2a2ab8" stroke-width="1.25"/>
<circle cx="190.6" cy="91.4" r="4.1" fill="none" stroke="#2a2ab8" stroke-width="1.25"/>
<circle cx="194.0" cy="95.0" r="4.1" fill="none" stroke="#2a2ab8" stroke-width="1.25"/>
<circle cx="173.4" cy="104.0" r="4.1" fill="none" stroke="#2a2ab8" stroke-width="1.25"/>
<circle cx="177.0" cy="110.0" r="4.1" fill="none" stroke="#2a2ab8" stroke-width="1.25"/>
<circle cx="179.6" cy="110.6" r="4.1" fill="none" stroke="#2a2ab8" stroke-width="1.25"/>
<circle cx="192.4" cy="109.0" r="4.1" fill="none" stroke="#2a2ab8" stroke-width="1.25"/>
<circle cx="208.4" cy="89.4" r="4.1" fill="none" stroke="#2a2ab8" stroke-width="1.25"/>
<circle cx="216.6" cy="89.0" r="4.1" fill="none" stroke="#2a2ab8" stroke-width="1.25"/>
<circle cx="211.6" cy="95.4" r="4.1" fill="none" stroke="#2a2ab8" stroke-width="1.25"/>
<circle cx="225.4" cy="93.4" r="4.1" fill="none" stroke="#2a2ab8" stroke-width="1.25"/>
<circle cx="234.4" cy="78.6" r="4.1" fill="none" stroke="#2a2ab8" stroke-width="1.25"/>
<circle cx="236.0" cy="89.4" r="4.1" fill="none" stroke="#2a2ab8" stroke-width="1.25"/>
<circle cx="215.4" cy="104.6" r="4.1" fill="none" stroke="#2a2ab8" stroke-width="1.25"/>
<circle cx="219.0" cy="103.4" r="4.1" fill="none" stroke="#2a2ab8" stroke-width="1.25"/>
<circle cx="227.0" cy="106.0" r="4.1" fill="none" stroke="#2a2ab8" stroke-width="1.25"/>
<circle cx="231.0" cy="107.0" r="4.1" fill="none" stroke="#2a2ab8" stroke-width="1.25"/>
<circle cx="233.4" cy="111.0" r="4.1" fill="none" stroke="#2a2ab8" stroke-width="1.25"/>
<circle cx="238.0" cy="101.0" r="4.1" fill="none" stroke="#2a2ab8" stroke-width="1.25"/>
<circle cx="242.0" cy="96.0" r="4.1" fill="none" stroke="#2a2ab8" stroke-width="1.25"/>
<circle cx="243.0" cy="110.0" r="4.1" fill="none" stroke="#2a2ab8" stroke-width="1.25"/>
<circle cx="240.6" cy="113.0" r="4.1" fill="none" stroke="#2a2ab8" stroke-width="1.25"/>
<circle cx="246.0" cy="100.0" r="4.1" fill="none" stroke="#2a2ab8" stroke-width="1.25"/>
<circle cx="249.0" cy="102.0" r="4.1" fill="none" stroke="#2a2ab8" stroke-width="1.25"/>
<circle cx="251.4" cy="104.0" r="4.1" fill="none" stroke="#2a2ab8" stroke-width="1.25"/>
<circle cx="254.6" cy="93.0" r="4.1" fill="none" stroke="#2a2ab8" stroke-width="1.25"/>
<circle cx="259.0" cy="102.0" r="4.1" fill="none" stroke="#2a2ab8" stroke-width="1.25"/>
<circle cx="262.0" cy="101.0" r="4.1" fill="none" stroke="#2a2ab8" stroke-width="1.25"/>
<circle cx="260.0" cy="106.6" r="4.1" fill="none" stroke="#2a2ab8" stroke-width="1.25"/>
<circle cx="264.6" cy="114.0" r="4.1" fill="none" stroke="#2a2ab8" stroke-width="1.25"/>
<circle cx="269.0" cy="108.6" r="4.1" fill="none" stroke="#2a2ab8" stroke-width="1.25"/>
<circle cx="235.3" cy="112.7" r="4.1" fill="none" stroke="#2a2ab8" stroke-width="1.25"/>
<circle cx="232.0" cy="114.0" r="4.1" fill="none" stroke="#2a2ab8" stroke-width="1.25"/>
<circle cx="228.0" cy="116.0" r="4.1" fill="none" stroke="#2a2ab8" stroke-width="1.25"/>
<circle cx="250.4" cy="115.3" r="4.1" fill="none" stroke="#2a2ab8" stroke-width="1.25"/>
<circle cx="206.6" cy="116.6" r="4.1" fill="none" stroke="#2a2ab8" stroke-width="1.25"/>
<circle cx="213.6" cy="122.0" r="4.1" fill="none" stroke="#2a2ab8" stroke-width="1.25"/>
<circle cx="234.6" cy="136.4" r="4.1" fill="none" stroke="#2a2ab8" stroke-width="1.25"/>
<circle cx="305.4" cy="85.8" r="4.1" fill="none" stroke="#2a2ab8" stroke-width="1.25"/>
<circle cx="280.4" cy="93.8" r="4.1" fill="none" stroke="#2a2ab8" stroke-width="1.25"/>
<circle cx="280.7" cy="96.3" r="4.1" fill="none" stroke="#2a2ab8" stroke-width="1.25"/>
<circle cx="278.0" cy="95.3" r="4.1" fill="none" stroke="#2a2ab8" stroke-width="1.25"/>
<circle cx="298.2" cy="99.3" r="4.1" fill="none" stroke="#2a2ab8" stroke-width="1.25"/>
<circle cx="290.0" cy="101.0" r="4.1" fill="none" stroke="#2a2ab8" stroke-width="1.25"/>
<circle cx="277.2" cy="101.6" r="4.1" fill="none" stroke="#2a2ab8" stroke-width="1.25"/>
<circle cx="271.3" cy="108.0" r="4.1" fill="none" stroke="#2a2ab8" stroke-width="1.25"/>
<circle cx="281.8" cy="105.0" r="4.1" fill="none" stroke="#2a2ab8" stroke-width="1.25"/>
<circle cx="279.5" cy="109.8" r="4.1" fill="none" stroke="#2a2ab8" stroke-width="1.25"/>
<circle cx="287.0" cy="111.0" r="4.1" fill="none" stroke="#2a2ab8" stroke-width="1.25"/>
<circle cx="293.5" cy="105.7" r="4.1" fill="none" stroke="#2a2ab8" stroke-width="1.25"/>
<circle cx="295.8" cy="108.6" r="4.1" fill="none" stroke="#2a2ab8" stroke-width="1.25"/>
<circle cx="302.8" cy="105.0" r="4.1" fill="none" stroke="#2a2ab8" stroke-width="1.25"/>
<circle cx="299.9" cy="113.3" r="4.1" fill="none" stroke="#2a2ab8" stroke-width="1.25"/>
<circle cx="304.0" cy="111.5" r="4.1" fill="none" stroke="#2a2ab8" stroke-width="1.25"/>
<circle cx="292.3" cy="115.0" r="4.1" fill="none" stroke="#2a2ab8" stroke-width="1.25"/>
<circle cx="286.5" cy="117.3" r="4.1" fill="none" stroke="#2a2ab8" stroke-width="1.25"/>
<circle cx="296.4" cy="122.0" r="4.1" fill="none" stroke="#2a2ab8" stroke-width="1.25"/>
<circle cx="304.0" cy="122.6" r="4.1" fill="none" stroke="#2a2ab8" stroke-width="1.25"/>
<circle cx="283.0" cy="125.0" r="4.1" fill="none" stroke="#2a2ab8" stroke-width="1.25"/>
<circle cx="312.8" cy="104.0" r="4.1" fill="none" stroke="#2a2ab8" stroke-width="1.25"/>
<circle cx="316.3" cy="105.0" r="4.1" fill="none" stroke="#2a2ab8" stroke-width="1.25"/>
<circle cx="323.8" cy="113.3" r="4.1" fill="none" stroke="#2a2ab8" stroke-width="1.25"/>
<circle cx="332.0" cy="104.5" r="4.1" fill="none" stroke="#2a2ab8" stroke-width="1.25"/>
<circle cx="314.5" cy="118.5" r="4.1" fill="none" stroke="#2a2ab8" stroke-width="1.25"/>
<circle cx="315.7" cy="126.0" r="4.1" fill="none" stroke="#2a2ab8" stroke-width="1.25"/>
<circle cx="321.5" cy="117.3" r="4.1" fill="none" stroke="#2a2ab8" stroke-width="1.25"/>
<circle cx="328.5" cy="119.7" r="4.1" fill="none" stroke="#2a2ab8" stroke-width="1.25"/>
<circle cx="332.0" cy="123.2" r="4.1" fill="none" stroke="#2a2ab8" stroke-width="1.25"/>
<circle cx="336.7" cy="122.0" r="4.1" fill="none" stroke="#2a2ab8" stroke-width="1.25"/>
<circle cx="288.4" cy="129.8" r="4.1" fill="none" stroke="#2a2ab8" stroke-width="1.25"/>
<circle cx="348.0" cy="101.0" r="4.1" fill="none" stroke="#2a2ab8" stroke-width="1.25"/>
<circle cx="348.0" cy="108.0" r="4.1" fill="none" stroke="#2a2ab8" stroke-width="1.25"/>
<circle cx="354.4" cy="109.2" r="4.1" fill="none" stroke="#2a2ab8" stroke-width="1.25"/>
<circle cx="338.0" cy="113.3" r="4.1" fill="none" stroke="#2a2ab8" stroke-width="1.25"/>
<circle cx="342.8" cy="113.8" r="4.1" fill="none" stroke="#2a2ab8" stroke-width="1.25"/>
<circle cx="348.0" cy="119.7" r="4.1" fill="none" stroke="#2a2ab8" stroke-width="1.25"/>
<circle cx="340.4" cy="122.6" r="4.1" fill="none" stroke="#2a2ab8" stroke-width="1.25"/>
<circle cx="345.7" cy="126.0" r="4.1" fill="none" stroke="#2a2ab8" stroke-width="1.25"/>
<circle cx="360.8" cy="117.3" r="4.1" fill="none" stroke="#2a2ab8" stroke-width="1.25"/>
<circle cx="356.2" cy="125.0" r="4.1" fill="none" stroke="#2a2ab8" stroke-width="1.25"/>
<circle cx="377.2" cy="111.0" r="4.1" fill="none" stroke="#2a2ab8" stroke-width="1.25"/>
<circle cx="373.0" cy="116.2" r="4.1" fill="none" stroke="#2a2ab8" stroke-width="1.25"/>
<circle cx="366.7" cy="117.3" r="4.1" fill="none" stroke="#2a2ab8" stroke-width="1.25"/>
<circle cx="383.0" cy="119.7" r="4.1" fill="none" stroke="#2a2ab8" stroke-width="1.25"/>
<circle cx="391.2" cy="121.4" r="4.1" fill="none" stroke="#2a2ab8" stroke-width="1.25"/>
<circle cx="409.8" cy="124.3" r="4.1" fill="none" stroke="#2a2ab8" stroke-width="1.25"/>
<circle cx="408.0" cy="126.0" r="4.1" fill="none" stroke="#2a2ab8" stroke-width="1.25"/>
<circle cx="399.0" cy="130.6" r="4.1" fill="none" stroke="#2a2ab8" stroke-width="1.25"/>
<circle cx="402.0" cy="134.0" r="4.1" fill="none" stroke="#2a2ab8" stroke-width="1.25"/>
<circle cx="406.6" cy="128.6" r="4.1" fill="none" stroke="#2a2ab8" stroke-width="1.25"/>
<circle cx="406.0" cy="135.0" r="4.1" fill="none" stroke="#2a2ab8" stroke-width="1.25"/>
<circle cx="413.0" cy="131.0" r="4.1" fill="none" stroke="#2a2ab8" stroke-width="1.25"/>
<circle cx="426.6" cy="134.0" r="4.1" fill="none" stroke="#2a2ab8" stroke-width="1.25"/>
<circle cx="432.0" cy="135.0" r="4.1" fill="none" stroke="#2a2ab8" stroke-width="1.25"/>
<circle cx="435.0" cy="131.0" r="4.1" fill="none" stroke="#2a2ab8" stroke-width="1.25"/>
<circle cx="442.6" cy="137.4" r="4.1" fill="none" stroke="#2a2ab8" stroke-width="1.25"/>
<circle cx="384.0" cy="135.0" r="4.1" fill="none" stroke="#2a2ab8" stroke-width="1.25"/>
<circle cx="385.0" cy="149.0" r="4.1" fill="none" stroke="#2a2ab8" stroke-width="1.25"/>
<circle cx="462.0" cy="143.4" r="4.1" fill="none" stroke="#2a2ab8" stroke-width="1.25"/>
<circle cx="372.5" cy="132.3" r="4.1" fill="none" stroke="#2a2ab8" stroke-width="1.25"/>
<circle cx="536.4" cy="166.4" r="4.1" fill="none" stroke="#2a2ab8" stroke-width="1.25"/>
<circle cx="168.0" cy="261.6" r="4.1" fill="none" stroke="#2a2ab8" stroke-width="1.25"/>
<circle cx="173.6" cy="259.0" r="4.1" fill="none" stroke="#2a2ab8" stroke-width="1.25"/>
<circle cx="170.0" cy="267.0" r="4.1" fill="none" stroke="#2a2ab8" stroke-width="1.25"/>
<circle cx="155.0" cy="282.0" r="4.1" fill="none" stroke="#2a2ab8" stroke-width="1.25"/>
<circle cx="109.6" cy="300.0" r="4.1" fill="none" stroke="#2a2ab8" stroke-width="1.25"/>
<circle cx="185.6" cy="267.4" r="4.1" fill="none" stroke="#2a2ab8" stroke-width="1.25"/>
<circle cx="195.6" cy="265.6" r="4.1" fill="none" stroke="#2a2ab8" stroke-width="1.25"/>
<circle cx="186.4" cy="275.4" r="4.1" fill="none" stroke="#2a2ab8" stroke-width="1.25"/>
<circle cx="204.4" cy="274.6" r="4.1" fill="none" stroke="#2a2ab8" stroke-width="1.25"/>
<circle cx="218.0" cy="252.6" r="4.1" fill="none" stroke="#2a2ab8" stroke-width="1.25"/>
<circle cx="225.6" cy="244.6" r="4.1" fill="none" stroke="#2a2ab8" stroke-width="1.25"/>
<circle cx="237.6" cy="246.4" r="4.1" fill="none" stroke="#2a2ab8" stroke-width="1.25"/>
<circle cx="225.0" cy="271.4" r="4.1" fill="none" stroke="#2a2ab8" stroke-width="1.25"/>
<circle cx="238.0" cy="262.4" r="4.1" fill="none" stroke="#2a2ab8" stroke-width="1.25"/>
<circle cx="238.0" cy="270.6" r="4.1" fill="none" stroke="#2a2ab8" stroke-width="1.25"/>
<circle cx="244.0" cy="267.0" r="4.1" fill="none" stroke="#2a2ab8" stroke-width="1.25"/>
<circle cx="243.6" cy="269.4" r="4.1" fill="none" stroke="#2a2ab8" stroke-width="1.25"/>
<circle cx="249.0" cy="260.6" r="4.1" fill="none" stroke="#2a2ab8" stroke-width="1.25"/>
<circle cx="256.0" cy="262.6" r="4.1" fill="none" stroke="#2a2ab8" stroke-width="1.25"/>
<circle cx="260.0" cy="259.0" r="4.1" fill="none" stroke="#2a2ab8" stroke-width="1.25"/>
<circle cx="262.4" cy="243.4" r="4.1" fill="none" stroke="#2a2ab8" stroke-width="1.25"/>
<circle cx="268.4" cy="249.0" r="4.1" fill="none" stroke="#2a2ab8" stroke-width="1.25"/>
<circle cx="254.0" cy="273.0" r="4.1" fill="none" stroke="#2a2ab8" stroke-width="1.25"/>
<circle cx="259.0" cy="276.6" r="4.1" fill="none" stroke="#2a2ab8" stroke-width="1.25"/>
<circle cx="241.6" cy="284.0" r="4.1" fill="none" stroke="#2a2ab8" stroke-width="1.25"/>
<circle cx="254.0" cy="283.0" r="4.1" fill="none" stroke="#2a2ab8" stroke-width="1.25"/>
<circle cx="242.0" cy="291.0" r="4.1" fill="none" stroke="#2a2ab8" stroke-width="1.25"/>
<circle cx="268.0" cy="288.0" r="4.1" fill="none" stroke="#2a2ab8" stroke-width="1.25"/>
<circle cx="275.6" cy="286.6" r="4.1" fill="none" stroke="#2a2ab8" stroke-width="1.25"/>
<circle cx="271.6" cy="263.4" r="4.1" fill="none" stroke="#2a2ab8" stroke-width="1.25"/>
<circle cx="276.0" cy="261.4" r="4.1" fill="none" stroke="#2a2ab8" stroke-width="1.25"/>
<circle cx="296.2" cy="236.2" r="4.1" fill="none" stroke="#2a2ab8" stroke-width="1.25"/>
<circle cx="285.0" cy="248.0" r="4.1" fill="none" stroke="#2a2ab8" stroke-width="1.25"/>
<circle cx="307.5" cy="249.0" r="4.1" fill="none" stroke="#2a2ab8" stroke-width="1.25"/>
<circle cx="295.5" cy="257.8" r="4.1" fill="none" stroke="#2a2ab8" stroke-width="1.25"/>
<circle cx="303.0" cy="259.5" r="4.1" fill="none" stroke="#2a2ab8" stroke-width="1.25"/>
<circle cx="307.0" cy="257.0" r="4.1" fill="none" stroke="#2a2ab8" stroke-width="1.25"/>
<circle cx="317.0" cy="256.5" r="4.1" fill="none" stroke="#2a2ab8" stroke-width="1.25"/>
<circle cx="321.0" cy="254.5" r="4.1" fill="none" stroke="#2a2ab8" stroke-width="1.25"/>
<circle cx="325.5" cy="262.5" r="4.1" fill="none" stroke="#2a2ab8" stroke-width="1.25"/>
<circle cx="287.0" cy="263.5" r="4.1" fill="none" stroke="#2a2ab8" stroke-width="1.25"/>
<circle cx="300.0" cy="263.5" r="4.1" fill="none" stroke="#2a2ab8" stroke-width="1.25"/>
<circle cx="307.5" cy="263.5" r="4.1" fill="none" stroke="#2a2ab8" stroke-width="1.25"/>
<circle cx="316.0" cy="263.5" r="4.1" fill="none" stroke="#2a2ab8" stroke-width="1.25"/>
<circle cx="286.5" cy="265.5" r="4.1" fill="none" stroke="#2a2ab8" stroke-width="1.25"/>
<circle cx="279.5" cy="272.0" r="4.1" fill="none" stroke="#2a2ab8" stroke-width="1.25"/>
<circle cx="282.5" cy="274.0" r="4.1" fill="none" stroke="#2a2ab8" stroke-width="1.25"/>
<circle cx="288.0" cy="278.5" r="4.1" fill="none" stroke="#2a2ab8" stroke-width="1.25"/>
<circle cx="289.5" cy="281.5" r="4.1" fill="none" stroke="#2a2ab8" stroke-width="1.25"/>
<circle cx="286.0" cy="284.0" r="4.1" fill="none" stroke="#2a2ab8" stroke-width="1.25"/>
<circle cx="296.0" cy="277.0" r="4.1" fill="none" stroke="#2a2ab8" stroke-width="1.25"/>
<circle cx="298.0" cy="265.0" r="4.1" fill="none" stroke="#2a2ab8" stroke-width="1.25"/>
<circle cx="302.0" cy="263.5" r="4.1" fill="none" stroke="#2a2ab8" stroke-width="1.25"/>
<circle cx="304.0" cy="267.0" r="4.1" fill="none" stroke="#2a2ab8" stroke-width="1.25"/>
<circle cx="311.0" cy="271.5" r="4.1" fill="none" stroke="#2a2ab8" stroke-width="1.25"/>
<circle cx="312.0" cy="269.0" r="4.1" fill="none" stroke="#2a2ab8" stroke-width="1.25"/>
<circle cx="315.5" cy="267.0" r="4.1" fill="none" stroke="#2a2ab8" stroke-width="1.25"/>
<circle cx="318.0" cy="271.0" r="4.1" fill="none" stroke="#2a2ab8" stroke-width="1.25"/>
<circle cx="320.0" cy="279.0" r="4.1" fill="none" stroke="#2a2ab8" stroke-width="1.25"/>
<circle cx="323.0" cy="277.5" r="4.1" fill="none" stroke="#2a2ab8" stroke-width="1.25"/>
<circle cx="325.0" cy="279.5" r="4.1" fill="none" stroke="#2a2ab8" stroke-width="1.25"/>
<circle cx="328.0" cy="282.5" r="4.1" fill="none" stroke="#2a2ab8" stroke-width="1.25"/>
<circle cx="311.0" cy="284.0" r="4.1" fill="none" stroke="#2a2ab8" stroke-width="1.25"/>
<circle cx="313.0" cy="285.5" r="4.1" fill="none" stroke="#2a2ab8" stroke-width="1.25"/>
<circle cx="315.0" cy="287.0" r="4.1" fill="none" stroke="#2a2ab8" stroke-width="1.25"/>
<circle cx="316.5" cy="294.5" r="4.1" fill="none" stroke="#2a2ab8" stroke-width="1.25"/>
<circle cx="314.5" cy="298.0" r="4.1" fill="none" stroke="#2a2ab8" stroke-width="1.25"/>
<circle cx="349.0" cy="227.0" r="4.1" fill="none" stroke="#2a2ab8" stroke-width="1.25"/>
<circle cx="352.5" cy="230.5" r="4.1" fill="none" stroke="#2a2ab8" stroke-width="1.25"/>
<circle cx="337.0" cy="239.5" r="4.1" fill="none" stroke="#2a2ab8" stroke-width="1.25"/>
<circle cx="343.5" cy="240.5" r="4.1" fill="none" stroke="#2a2ab8" stroke-width="1.25"/>
<circle cx="337.0" cy="246.5" r="4.1" fill="none" stroke="#2a2ab8" stroke-width="1.25"/>
<circle cx="343.0" cy="245.5" r="4.1" fill="none" stroke="#2a2ab8" stroke-width="1.25"/>
<circle cx="376.5" cy="241.0" r="4.1" fill="none" stroke="#2a2ab8" stroke-width="1.25"/>
<circle cx="384.0" cy="248.0" r="4.1" fill="none" stroke="#2a2ab8" stroke-width="1.25"/>
<circle cx="340.0" cy="256.0" r="4.1" fill="none" stroke="#2a2ab8" stroke-width="1.25"/>
<circle cx="347.5" cy="258.5" r="4.1" fill="none" stroke="#2a2ab8" stroke-width="1.25"/>
<circle cx="350.0" cy="260.5" r="4.1" fill="none" stroke="#2a2ab8" stroke-width="1.25"/>
<circle cx="361.5" cy="259.0" r="4.1" fill="none" stroke="#2a2ab8" stroke-width="1.25"/>
<circle cx="376.0" cy="257.0" r="4.1" fill="none" stroke="#2a2ab8" stroke-width="1.25"/>
<circle cx="372.0" cy="261.5" r="4.1" fill="none" stroke="#2a2ab8" stroke-width="1.25"/>
<circle cx="381.0" cy="260.0" r="4.1" fill="none" stroke="#2a2ab8" stroke-width="1.25"/>
<circle cx="344.0" cy="262.5" r="4.1" fill="none" stroke="#2a2ab8" stroke-width="1.25"/>
<circle cx="342.0" cy="267.0" r="4.1" fill="none" stroke="#2a2ab8" stroke-width="1.25"/>
<circle cx="349.0" cy="269.5" r="4.1" fill="none" stroke="#2a2ab8" stroke-width="1.25"/>
<circle cx="355.5" cy="266.5" r="4.1" fill="none" stroke="#2a2ab8" stroke-width="1.25"/>
<circle cx="356.5" cy="274.0" r="4.1" fill="none" stroke="#2a2ab8" stroke-width="1.25"/>
<circle cx="349.5" cy="263.0" r="4.1" fill="none" stroke="#2a2ab8" stroke-width="1.25"/>
<circle cx="368.5" cy="271.5" r="4.1" fill="none" stroke="#2a2ab8" stroke-width="1.25"/>
<circle cx="376.0" cy="272.0" r="4.1" fill="none" stroke="#2a2ab8" stroke-width="1.25"/>
<circle cx="379.5" cy="274.0" r="4.1" fill="none" stroke="#2a2ab8" stroke-width="1.25"/>
<circle cx="328.0" cy="278.0" r="4.1" fill="none" stroke="#2a2ab8" stroke-width="1.25"/>
<circle cx="347.5" cy="290.0" r="4.1" fill="none" stroke="#2a2ab8" stroke-width="1.25"/>
<circle cx="354.0" cy="286.0" r="4.1" fill="none" stroke="#2a2ab8" stroke-width="1.25"/>
<circle cx="379.0" cy="283.5" r="4.1" fill="none" stroke="#2a2ab8" stroke-width="1.25"/>
<circle cx="363.0" cy="297.0" r="4.1" fill="none" stroke="#2a2ab8" stroke-width="1.25"/>
<circle cx="379.5" cy="296.0" r="4.1" fill="none" stroke="#2a2ab8" stroke-width="1.25"/>
<circle cx="430.0" cy="199.4" r="4.1" fill="none" stroke="#2a2ab8" stroke-width="1.25"/>
<circle cx="411.4" cy="227.4" r="4.1" fill="none" stroke="#2a2ab8" stroke-width="1.25"/>
<circle cx="472.4" cy="236.4" r="4.1" fill="none" stroke="#2a2ab8" stroke-width="1.25"/>
<circle cx="389.0" cy="254.0" r="4.1" fill="none" stroke="#2a2ab8" stroke-width="1.25"/>
<circle cx="386.0" cy="257.0" r="4.1" fill="none" stroke="#2a2ab8" stroke-width="1.25"/>
<circle cx="397.0" cy="251.6" r="4.1" fill="none" stroke="#2a2ab8" stroke-width="1.25"/>
<circle cx="401.6" cy="261.0" r="4.1" fill="none" stroke="#2a2ab8" stroke-width="1.25"/>
<circle cx="409.6" cy="259.0" r="4.1" fill="none" stroke="#2a2ab8" stroke-width="1.25"/>
<circle cx="409.0" cy="266.0" r="4.1" fill="none" stroke="#2a2ab8" stroke-width="1.25"/>
<circle cx="387.0" cy="264.0" r="4.1" fill="none" stroke="#2a2ab8" stroke-width="1.25"/>
<circle cx="441.4" cy="257.4" r="4.1" fill="none" stroke="#2a2ab8" stroke-width="1.25"/>
<circle cx="467.4" cy="256.6" r="4.1" fill="none" stroke="#2a2ab8" stroke-width="1.25"/>
<circle cx="429.6" cy="269.0" r="4.1" fill="none" stroke="#2a2ab8" stroke-width="1.25"/>
<circle cx="400.0" cy="274.0" r="4.1" fill="none" stroke="#2a2ab8" stroke-width="1.25"/>
<circle cx="381.0" cy="272.0" r="4.1" fill="none" stroke="#2a2ab8" stroke-width="1.25"/>
<circle cx="381.0" cy="263.5" r="4.1" fill="none" stroke="#2a2ab8" stroke-width="1.25"/>
<circle cx="393.0" cy="272.0" r="4.1" fill="none" stroke="#2a2ab8" stroke-width="1.25"/>
<circle cx="381.5" cy="274.0" r="4.1" fill="none" stroke="#2a2ab8" stroke-width="1.25"/>
<circle cx="391.0" cy="282.5" r="4.1" fill="none" stroke="#2a2ab8" stroke-width="1.25"/>
<circle cx="386.0" cy="292.5" r="4.1" fill="none" stroke="#2a2ab8" stroke-width="1.25"/>
<circle cx="400.5" cy="276.5" r="4.1" fill="none" stroke="#2a2ab8" stroke-width="1.25"/>
<circle cx="420.0" cy="279.5" r="4.1" fill="none" stroke="#2a2ab8" stroke-width="1.25"/>
<circle cx="404.5" cy="286.0" r="4.1" fill="none" stroke="#2a2ab8" stroke-width="1.25"/>
<circle cx="404.0" cy="292.5" r="4.1" fill="none" stroke="#2a2ab8" stroke-width="1.25"/>
<circle cx="406.5" cy="298.5" r="4.1" fill="none" stroke="#2a2ab8" stroke-width="1.25"/>
<circle cx="423.0" cy="296.5" r="4.1" fill="none" stroke="#2a2ab8" stroke-width="1.25"/>
<circle cx="381.0" cy="299.0" r="4.1" fill="none" stroke="#2a2ab8" stroke-width="1.25"/>
<circle cx="361.3" cy="301.3" r="4.1" fill="none" stroke="#2a2ab8" stroke-width="1.25"/>
<circle cx="380.0" cy="302.0" r="4.1" fill="none" stroke="#2a2ab8" stroke-width="1.25"/>
<circle cx="374.4" cy="309.3" r="4.1" fill="none" stroke="#2a2ab8" stroke-width="1.25"/>
<circle cx="352.7" cy="338.0" r="4.1" fill="none" stroke="#2a2ab8" stroke-width="1.25"/>
<circle cx="270.3" cy="315.7" r="4.1" fill="none" stroke="#2a2ab8" stroke-width="1.25"/>
<circle cx="331.1" cy="218.6" r="4.1" fill="none" stroke="#2a2ab8" stroke-width="1.25"/>
<circle cx="360.7" cy="220.3" r="4.1" fill="none" stroke="#2a2ab8" stroke-width="1.25"/>
<circle cx="109.4" cy="475.8" r="4.1" fill="none" stroke="#2a2ab8" stroke-width="1.25"/>
<circle cx="155.0" cy="482.0" r="4.1" fill="none" stroke="#2a2ab8" stroke-width="1.25"/>
<circle cx="168.8" cy="498.0" r="4.1" fill="none" stroke="#2a2ab8" stroke-width="1.25"/>
<circle cx="170.5" cy="492.5" r="4.1" fill="none" stroke="#2a2ab8" stroke-width="1.25"/>
<circle cx="173.8" cy="494.5" r="4.1" fill="none" stroke="#2a2ab8" stroke-width="1.25"/>
<circle cx="186.3" cy="483.8" r="4.1" fill="none" stroke="#2a2ab8" stroke-width="1.25"/>
<circle cx="185.5" cy="492.5" r="4.1" fill="none" stroke="#2a2ab8" stroke-width="1.25"/>
<circle cx="195.8" cy="488.8" r="4.1" fill="none" stroke="#2a2ab8" stroke-width="1.25"/>
<circle cx="205.0" cy="477.0" r="4.1" fill="none" stroke="#2a2ab8" stroke-width="1.25"/>
<circle cx="225.0" cy="476.3" r="4.1" fill="none" stroke="#2a2ab8" stroke-width="1.25"/>
<circle cx="217.5" cy="500.5" r="4.1" fill="none" stroke="#2a2ab8" stroke-width="1.25"/>
<circle cx="225.0" cy="497.0" r="4.1" fill="none" stroke="#2a2ab8" stroke-width="1.25"/>
<circle cx="225.5" cy="501.3" r="4.1" fill="none" stroke="#2a2ab8" stroke-width="1.25"/>
<circle cx="238.0" cy="497.5" r="4.1" fill="none" stroke="#2a2ab8" stroke-width="1.25"/>
<circle cx="237.5" cy="473.8" r="4.1" fill="none" stroke="#2a2ab8" stroke-width="1.25"/>
<circle cx="238.0" cy="477.5" r="4.1" fill="none" stroke="#2a2ab8" stroke-width="1.25"/>
<circle cx="242.0" cy="460.0" r="4.1" fill="none" stroke="#2a2ab8" stroke-width="1.25"/>
<circle cx="253.8" cy="454.3" r="4.1" fill="none" stroke="#2a2ab8" stroke-width="1.25"/>
<circle cx="259.5" cy="459.5" r="4.1" fill="none" stroke="#2a2ab8" stroke-width="1.25"/>
<circle cx="267.5" cy="451.3" r="4.1" fill="none" stroke="#2a2ab8" stroke-width="1.25"/>
<circle cx="275.8" cy="452.0" r="4.1" fill="none" stroke="#2a2ab8" stroke-width="1.25"/>
<circle cx="270.5" cy="430.4" r="4.1" fill="none" stroke="#2a2ab8" stroke-width="1.25"/>
<circle cx="246.3" cy="475.0" r="4.1" fill="none" stroke="#2a2ab8" stroke-width="1.25"/>
<circle cx="255.0" cy="470.5" r="4.1" fill="none" stroke="#2a2ab8" stroke-width="1.25"/>
<circle cx="255.0" cy="477.5" r="4.1" fill="none" stroke="#2a2ab8" stroke-width="1.25"/>
<circle cx="249.5" cy="482.0" r="4.1" fill="none" stroke="#2a2ab8" stroke-width="1.25"/>
<circle cx="260.8" cy="480.5" r="4.1" fill="none" stroke="#2a2ab8" stroke-width="1.25"/>
<circle cx="263.0" cy="488.8" r="4.1" fill="none" stroke="#2a2ab8" stroke-width="1.25"/>
<circle cx="268.8" cy="482.5" r="4.1" fill="none" stroke="#2a2ab8" stroke-width="1.25"/>
<circle cx="271.3" cy="475.5" r="4.1" fill="none" stroke="#2a2ab8" stroke-width="1.25"/>
<circle cx="277.5" cy="473.8" r="4.1" fill="none" stroke="#2a2ab8" stroke-width="1.25"/>
<circle cx="285.0" cy="487.5" r="4.1" fill="none" stroke="#2a2ab8" stroke-width="1.25"/>
<circle cx="286.3" cy="472.5" r="4.1" fill="none" stroke="#2a2ab8" stroke-width="1.25"/>
<circle cx="278.8" cy="466.3" r="4.1" fill="none" stroke="#2a2ab8" stroke-width="1.25"/>
<circle cx="282.5" cy="462.0" r="4.1" fill="none" stroke="#2a2ab8" stroke-width="1.25"/>
<circle cx="286.3" cy="454.5" r="4.1" fill="none" stroke="#2a2ab8" stroke-width="1.25"/>
<circle cx="289.5" cy="456.3" r="4.1" fill="none" stroke="#2a2ab8" stroke-width="1.25"/>
<circle cx="296.3" cy="459.5" r="4.1" fill="none" stroke="#2a2ab8" stroke-width="1.25"/>
<circle cx="295.0" cy="467.5" r="4.1" fill="none" stroke="#2a2ab8" stroke-width="1.25"/>
<circle cx="298.0" cy="465.0" r="4.1" fill="none" stroke="#2a2ab8" stroke-width="1.25"/>
<circle cx="295.5" cy="492.5" r="4.1" fill="none" stroke="#2a2ab8" stroke-width="1.25"/>
<circle cx="347.5" cy="424.2" r="4.1" fill="none" stroke="#2a2ab8" stroke-width="1.25"/>
<circle cx="361.7" cy="425.0" r="4.1" fill="none" stroke="#2a2ab8" stroke-width="1.25"/>
<circle cx="379.2" cy="420.0" r="4.1" fill="none" stroke="#2a2ab8" stroke-width="1.25"/>
<circle cx="315.0" cy="430.8" r="4.1" fill="none" stroke="#2a2ab8" stroke-width="1.25"/>
<circle cx="316.7" cy="434.7" r="4.1" fill="none" stroke="#2a2ab8" stroke-width="1.25"/>
<circle cx="377.5" cy="435.0" r="4.1" fill="none" stroke="#2a2ab8" stroke-width="1.25"/>
<circle cx="379.2" cy="437.5" r="4.1" fill="none" stroke="#2a2ab8" stroke-width="1.25"/>
<circle cx="353.3" cy="439.2" r="4.1" fill="none" stroke="#2a2ab8" stroke-width="1.25"/>
<circle cx="356.7" cy="444.7" r="4.1" fill="none" stroke="#2a2ab8" stroke-width="1.25"/>
<circle cx="314.2" cy="441.7" r="4.1" fill="none" stroke="#2a2ab8" stroke-width="1.25"/>
<circle cx="322.5" cy="441.3" r="4.1" fill="none" stroke="#2a2ab8" stroke-width="1.25"/>
<circle cx="328.7" cy="443.0" r="4.1" fill="none" stroke="#2a2ab8" stroke-width="1.25"/>
<circle cx="310.0" cy="446.7" r="4.1" fill="none" stroke="#2a2ab8" stroke-width="1.25"/>
<circle cx="319.2" cy="447.5" r="4.1" fill="none" stroke="#2a2ab8" stroke-width="1.25"/>
<circle cx="323.3" cy="449.2" r="4.1" fill="none" stroke="#2a2ab8" stroke-width="1.25"/>
<circle cx="330.0" cy="451.7" r="4.1" fill="none" stroke="#2a2ab8" stroke-width="1.25"/>
<circle cx="341.7" cy="450.0" r="4.1" fill="none" stroke="#2a2ab8" stroke-width="1.25"/>
<circle cx="361.7" cy="452.0" r="4.1" fill="none" stroke="#2a2ab8" stroke-width="1.25"/>
<circle cx="369.2" cy="444.7" r="4.1" fill="none" stroke="#2a2ab8" stroke-width="1.25"/>
<circle cx="376.3" cy="447.5" r="4.1" fill="none" stroke="#2a2ab8" stroke-width="1.25"/>
<circle cx="383.3" cy="450.8" r="4.1" fill="none" stroke="#2a2ab8" stroke-width="1.25"/>
<circle cx="388.3" cy="442.5" r="4.1" fill="none" stroke="#2a2ab8" stroke-width="1.25"/>
<circle cx="376.7" cy="461.7" r="4.1" fill="none" stroke="#2a2ab8" stroke-width="1.25"/>
<circle cx="385.0" cy="460.8" r="4.1" fill="none" stroke="#2a2ab8" stroke-width="1.25"/>
<circle cx="387.5" cy="456.7" r="4.1" fill="none" stroke="#2a2ab8" stroke-width="1.25"/>
<circle cx="311.7" cy="455.0" r="4.1" fill="none" stroke="#2a2ab8" stroke-width="1.25"/>
<circle cx="316.7" cy="459.2" r="4.1" fill="none" stroke="#2a2ab8" stroke-width="1.25"/>
<circle cx="312.5" cy="460.0" r="4.1" fill="none" stroke="#2a2ab8" stroke-width="1.25"/>
<circle cx="302.5" cy="461.7" r="4.1" fill="none" stroke="#2a2ab8" stroke-width="1.25"/>
<circle cx="304.2" cy="468.3" r="4.1" fill="none" stroke="#2a2ab8" stroke-width="1.25"/>
<circle cx="307.5" cy="472.5" r="4.1" fill="none" stroke="#2a2ab8" stroke-width="1.25"/>
<circle cx="303.3" cy="471.7" r="4.1" fill="none" stroke="#2a2ab8" stroke-width="1.25"/>
<circle cx="316.7" cy="473.3" r="4.1" fill="none" stroke="#2a2ab8" stroke-width="1.25"/>
<circle cx="320.8" cy="470.8" r="4.1" fill="none" stroke="#2a2ab8" stroke-width="1.25"/>
<circle cx="325.8" cy="462.5" r="4.1" fill="none" stroke="#2a2ab8" stroke-width="1.25"/>
<circle cx="341.7" cy="457.5" r="4.1" fill="none" stroke="#2a2ab8" stroke-width="1.25"/>
<circle cx="349.2" cy="455.0" r="4.1" fill="none" stroke="#2a2ab8" stroke-width="1.25"/>
<circle cx="347.5" cy="460.8" r="4.1" fill="none" stroke="#2a2ab8" stroke-width="1.25"/>
<circle cx="355.8" cy="458.3" r="4.1" fill="none" stroke="#2a2ab8" stroke-width="1.25"/>
<circle cx="340.0" cy="466.7" r="4.1" fill="none" stroke="#2a2ab8" stroke-width="1.25"/>
<circle cx="343.3" cy="470.0" r="4.1" fill="none" stroke="#2a2ab8" stroke-width="1.25"/>
<circle cx="336.7" cy="477.5" r="4.1" fill="none" stroke="#2a2ab8" stroke-width="1.25"/>
<circle cx="337.5" cy="481.7" r="4.1" fill="none" stroke="#2a2ab8" stroke-width="1.25"/>
<circle cx="343.7" cy="483.3" r="4.1" fill="none" stroke="#2a2ab8" stroke-width="1.25"/>
<circle cx="376.7" cy="475.3" r="4.1" fill="none" stroke="#2a2ab8" stroke-width="1.25"/>
<circle cx="351.7" cy="489.2" r="4.1" fill="none" stroke="#2a2ab8" stroke-width="1.25"/>
<circle cx="350.0" cy="493.3" r="4.1" fill="none" stroke="#2a2ab8" stroke-width="1.25"/>
<circle cx="360.8" cy="493.3" r="4.1" fill="none" stroke="#2a2ab8" stroke-width="1.25"/>
<circle cx="330.8" cy="501.0" r="4.1" fill="none" stroke="#2a2ab8" stroke-width="1.25"/>
<circle cx="352.6" cy="385.0" r="4.1" fill="none" stroke="#2a2ab8" stroke-width="1.25"/>
<circle cx="374.4" cy="407.0" r="4.1" fill="none" stroke="#2a2ab8" stroke-width="1.25"/>
<circle cx="380.4" cy="413.0" r="4.1" fill="none" stroke="#2a2ab8" stroke-width="1.25"/>
<circle cx="379.4" cy="418.0" r="4.1" fill="none" stroke="#2a2ab8" stroke-width="1.25"/>
<circle cx="405.0" cy="422.4" r="4.1" fill="none" stroke="#2a2ab8" stroke-width="1.25"/>
<circle cx="407.0" cy="415.6" r="4.1" fill="none" stroke="#2a2ab8" stroke-width="1.25"/>
<circle cx="384.0" cy="426.4" r="4.1" fill="none" stroke="#2a2ab8" stroke-width="1.25"/>
<circle cx="423.0" cy="415.0" r="4.1" fill="none" stroke="#2a2ab8" stroke-width="1.25"/>
<circle cx="390.8" cy="428.3" r="4.1" fill="none" stroke="#2a2ab8" stroke-width="1.25"/>
<circle cx="400.8" cy="437.5" r="4.1" fill="none" stroke="#2a2ab8" stroke-width="1.25"/>
<circle cx="409.2" cy="439.2" r="4.1" fill="none" stroke="#2a2ab8" stroke-width="1.25"/>
<circle cx="420.0" cy="430.8" r="4.1" fill="none" stroke="#2a2ab8" stroke-width="1.25"/>
<circle cx="429.2" cy="433.0" r="4.1" fill="none" stroke="#2a2ab8" stroke-width="1.25"/>
<circle cx="441.3" cy="441.7" r="4.1" fill="none" stroke="#2a2ab8" stroke-width="1.25"/>
<circle cx="466.7" cy="441.7" r="4.1" fill="none" stroke="#2a2ab8" stroke-width="1.25"/>
<circle cx="472.5" cy="454.5" r="4.1" fill="none" stroke="#2a2ab8" stroke-width="1.25"/>
<circle cx="392.5" cy="443.3" r="4.1" fill="none" stroke="#2a2ab8" stroke-width="1.25"/>
<circle cx="409.7" cy="446.7" r="4.1" fill="none" stroke="#2a2ab8" stroke-width="1.25"/>
<circle cx="401.3" cy="451.7" r="4.1" fill="none" stroke="#2a2ab8" stroke-width="1.25"/>
<circle cx="396.7" cy="461.7" r="4.1" fill="none" stroke="#2a2ab8" stroke-width="1.25"/>
<circle cx="411.3" cy="475.8" r="4.1" fill="none" stroke="#2a2ab8" stroke-width="1.25"/>
<circle cx="430.0" cy="500.8" r="4.1" fill="none" stroke="#2a2ab8" stroke-width="1.25"/>
<circle cx="318.6" cy="110.3" r="4.1" fill="#fcf0f4" stroke="#2a2ab8" stroke-width="1.25"/>
<path d="M318.60,107.30 L321.30,112.20 L315.90,112.20 Z" fill="#f6bfcd" stroke="#e02a45" stroke-width="0.85"/>
<circle cx="373.0" cy="125.5" r="4.1" fill="#fcf0f4" stroke="#2a2ab8" stroke-width="1.25"/>
<path d="M373.00,122.50 L375.70,127.40 L370.30,127.40 Z" fill="#f6bfcd" stroke="#e02a45" stroke-width="0.85"/>
<circle cx="397.6" cy="126.7" r="4.1" fill="#fcf0f4" stroke="#2a2ab8" stroke-width="1.25"/>
<path d="M397.60,123.70 L400.30,128.60 L394.90,128.60 Z" fill="#f6bfcd" stroke="#e02a45" stroke-width="0.85"/>
<circle cx="422.6" cy="130.0" r="4.1" fill="#fcf0f4" stroke="#2a2ab8" stroke-width="1.25"/>
<path d="M422.60,127.00 L425.30,131.90 L419.90,131.90 Z" fill="#f6bfcd" stroke="#e02a45" stroke-width="0.85"/>
<circle cx="439.0" cy="129.5" r="4.1" fill="#fcf0f4" stroke="#2a2ab8" stroke-width="1.25"/>
<path d="M439.00,126.50 L441.70,131.40 L436.30,131.40 Z" fill="#f6bfcd" stroke="#e02a45" stroke-width="0.85"/>
<circle cx="409.0" cy="141.4" r="4.1" fill="#fcf0f4" stroke="#2a2ab8" stroke-width="1.25"/>
<path d="M409.00,138.40 L411.70,143.30 L406.30,143.30 Z" fill="#f6bfcd" stroke="#e02a45" stroke-width="0.85"/>
<circle cx="418.0" cy="134.6" r="4.1" fill="#fcf0f4" stroke="#2a2ab8" stroke-width="1.25"/>
<path d="M418.00,131.60 L420.70,136.50 L415.30,136.50 Z" fill="#f6bfcd" stroke="#e02a45" stroke-width="0.85"/>
<circle cx="422.4" cy="147.0" r="4.1" fill="#fcf0f4" stroke="#2a2ab8" stroke-width="1.25"/>
<path d="M422.40,144.00 L425.10,148.90 L419.70,148.90 Z" fill="#f6bfcd" stroke="#e02a45" stroke-width="0.85"/>
<circle cx="492.6" cy="147.4" r="4.1" fill="#fcf0f4" stroke="#2a2ab8" stroke-width="1.25"/>
<path d="M492.60,144.40 L495.30,149.30 L489.90,149.30 Z" fill="#f6bfcd" stroke="#e02a45" stroke-width="0.85"/>
<circle cx="505.0" cy="148.4" r="4.1" fill="#fcf0f4" stroke="#2a2ab8" stroke-width="1.25"/>
<path d="M505.00,145.40 L507.70,150.30 L502.30,150.30 Z" fill="#f6bfcd" stroke="#e02a45" stroke-width="0.85"/>
<circle cx="573.6" cy="140.0" r="4.1" fill="#fcf0f4" stroke="#2a2ab8" stroke-width="1.25"/>
<path d="M573.60,137.00 L576.30,141.90 L570.90,141.90 Z" fill="#f6bfcd" stroke="#e02a45" stroke-width="0.85"/>
<circle cx="369.0" cy="267.0" r="4.1" fill="#fcf0f4" stroke="#2a2ab8" stroke-width="1.25"/>
<path d="M369.00,264.00 L371.70,268.90 L366.30,268.90 Z" fill="#f6bfcd" stroke="#e02a45" stroke-width="0.85"/>
<circle cx="370.5" cy="287.0" r="4.1" fill="#fcf0f4" stroke="#2a2ab8" stroke-width="1.25"/>
<path d="M370.50,284.00 L373.20,288.90 L367.80,288.90 Z" fill="#f6bfcd" stroke="#e02a45" stroke-width="0.85"/>
<circle cx="363.5" cy="297.8" r="4.1" fill="#fcf0f4" stroke="#2a2ab8" stroke-width="1.25"/>
<path d="M363.50,294.80 L366.20,299.70 L360.80,299.70 Z" fill="#f6bfcd" stroke="#e02a45" stroke-width="0.85"/>
<circle cx="388.5" cy="288.5" r="4.1" fill="#fcf0f4" stroke="#2a2ab8" stroke-width="1.25"/>
<path d="M388.50,285.50 L391.20,290.40 L385.80,290.40 Z" fill="#f6bfcd" stroke="#e02a45" stroke-width="0.85"/>
<circle cx="399.0" cy="294.5" r="4.1" fill="#fcf0f4" stroke="#2a2ab8" stroke-width="1.25"/>
<path d="M399.00,291.50 L401.70,296.40 L396.30,296.40 Z" fill="#f6bfcd" stroke="#e02a45" stroke-width="0.85"/>
<circle cx="426.0" cy="293.5" r="4.1" fill="#fcf0f4" stroke="#2a2ab8" stroke-width="1.25"/>
<path d="M426.00,290.50 L428.70,295.40 L423.30,295.40 Z" fill="#f6bfcd" stroke="#e02a45" stroke-width="0.85"/>
<circle cx="412.7" cy="314.3" r="4.1" fill="#fcf0f4" stroke="#2a2ab8" stroke-width="1.25"/>
<path d="M412.70,311.30 L415.40,316.20 L410.00,316.20 Z" fill="#f6bfcd" stroke="#e02a45" stroke-width="0.85"/>
<circle cx="437.4" cy="315.0" r="4.1" fill="#fcf0f4" stroke="#2a2ab8" stroke-width="1.25"/>
<path d="M437.40,312.00 L440.10,316.90 L434.70,316.90 Z" fill="#f6bfcd" stroke="#e02a45" stroke-width="0.85"/>
<circle cx="549.0" cy="305.1" r="4.1" fill="#fcf0f4" stroke="#2a2ab8" stroke-width="1.25"/>
<path d="M549.00,302.10 L551.70,307.00 L546.30,307.00 Z" fill="#f6bfcd" stroke="#e02a45" stroke-width="0.85"/>
<circle cx="312.6" cy="307.2" r="4.1" fill="#fcf0f4" stroke="#2a2ab8" stroke-width="1.25"/>
<path d="M312.60,304.20 L315.30,309.10 L309.90,309.10 Z" fill="#f6bfcd" stroke="#e02a45" stroke-width="0.85"/>
<circle cx="325.7" cy="313.7" r="4.1" fill="#fcf0f4" stroke="#2a2ab8" stroke-width="1.25"/>
<path d="M325.70,310.70 L328.40,315.60 L323.00,315.60 Z" fill="#f6bfcd" stroke="#e02a45" stroke-width="0.85"/>
<circle cx="73.1" cy="227.9" r="4.1" fill="#fcf0f4" stroke="#2a2ab8" stroke-width="1.25"/>
<path d="M73.10,224.90 L75.80,229.80 L70.40,229.80 Z" fill="#f6bfcd" stroke="#e02a45" stroke-width="0.85"/>
<circle cx="313.0" cy="423.0" r="4.1" fill="#fcf0f4" stroke="#2a2ab8" stroke-width="1.25"/>
<path d="M313.00,420.00 L315.70,424.90 L310.30,424.90 Z" fill="#f6bfcd" stroke="#e02a45" stroke-width="0.85"/>
<circle cx="325.8" cy="420.8" r="4.1" fill="#fcf0f4" stroke="#2a2ab8" stroke-width="1.25"/>
<path d="M325.80,417.80 L328.50,422.70 L323.10,422.70 Z" fill="#f6bfcd" stroke="#e02a45" stroke-width="0.85"/>
<circle cx="364.2" cy="421.7" r="4.1" fill="#fcf0f4" stroke="#2a2ab8" stroke-width="1.25"/>
<path d="M364.20,418.70 L366.90,423.60 L361.50,423.60 Z" fill="#f6bfcd" stroke="#e02a45" stroke-width="0.85"/>
<circle cx="387.5" cy="426.7" r="4.1" fill="#fcf0f4" stroke="#2a2ab8" stroke-width="1.25"/>
<path d="M387.50,423.70 L390.20,428.60 L384.80,428.60 Z" fill="#f6bfcd" stroke="#e02a45" stroke-width="0.85"/>
<circle cx="370.3" cy="434.2" r="4.1" fill="#fcf0f4" stroke="#2a2ab8" stroke-width="1.25"/>
<path d="M370.30,431.20 L373.00,436.10 L367.60,436.10 Z" fill="#f6bfcd" stroke="#e02a45" stroke-width="0.85"/>
<circle cx="369.7" cy="450.8" r="4.1" fill="#fcf0f4" stroke="#2a2ab8" stroke-width="1.25"/>
<path d="M369.70,447.80 L372.40,452.70 L367.00,452.70 Z" fill="#f6bfcd" stroke="#e02a45" stroke-width="0.85"/>
<circle cx="350.8" cy="459.2" r="4.1" fill="#fcf0f4" stroke="#2a2ab8" stroke-width="1.25"/>
<path d="M350.80,456.20 L353.50,461.10 L348.10,461.10 Z" fill="#f6bfcd" stroke="#e02a45" stroke-width="0.85"/>
<circle cx="399.0" cy="419.0" r="4.1" fill="#fcf0f4" stroke="#2a2ab8" stroke-width="1.25"/>
<path d="M399.00,416.00 L401.70,420.90 L396.30,420.90 Z" fill="#f6bfcd" stroke="#e02a45" stroke-width="0.85"/>
<circle cx="412.8" cy="397.5" r="4.1" fill="#fcf0f4" stroke="#2a2ab8" stroke-width="1.25"/>
<path d="M412.80,394.50 L415.50,399.40 L410.10,399.40 Z" fill="#f6bfcd" stroke="#e02a45" stroke-width="0.85"/>
<circle cx="437.5" cy="394.2" r="4.1" fill="#fcf0f4" stroke="#2a2ab8" stroke-width="1.25"/>
<path d="M437.50,391.20 L440.20,396.10 L434.80,396.10 Z" fill="#f6bfcd" stroke="#e02a45" stroke-width="0.85"/>
<circle cx="425.8" cy="414.2" r="4.1" fill="#fcf0f4" stroke="#2a2ab8" stroke-width="1.25"/>
<path d="M425.80,411.20 L428.50,416.10 L423.10,416.10 Z" fill="#f6bfcd" stroke="#e02a45" stroke-width="0.85"/>
<circle cx="548.7" cy="373.5" r="4.1" fill="#fcf0f4" stroke="#2a2ab8" stroke-width="1.25"/>
<path d="M548.70,370.50 L551.40,375.40 L546.00,375.40 Z" fill="#f6bfcd" stroke="#e02a45" stroke-width="0.85"/>
<rect x="247.50" y="155.10" width="3.8" height="3.8" fill="#2b7c2e"/>
<rect x="265.70" y="154.70" width="3.8" height="3.8" fill="#2b7c2e"/>
<rect x="268.10" y="156.70" width="3.8" height="3.8" fill="#2b7c2e"/>
<rect x="258.70" y="165.10" width="3.8" height="3.8" fill="#2b7c2e"/>
<rect x="145.10" y="151.50" width="3.8" height="3.8" fill="#2b7c2e"/>
<rect x="320.20" y="124.80" width="3.8" height="3.8" fill="#2b7c2e"/>
<rect x="428.70" y="134.10" width="3.8" height="3.8" fill="#2b7c2e"/>
<rect x="376.10" y="142.10" width="3.8" height="3.8" fill="#2b7c2e"/>
<rect x="388.10" y="141.10" width="3.8" height="3.8" fill="#2b7c2e"/>
<rect x="380.70" y="146.10" width="3.8" height="3.8" fill="#2b7c2e"/>
<rect x="401.10" y="139.10" width="3.8" height="3.8" fill="#2b7c2e"/>
<rect x="405.10" y="143.10" width="3.8" height="3.8" fill="#2b7c2e"/>
<rect x="406.10" y="140.10" width="3.8" height="3.8" fill="#2b7c2e"/>
<rect x="398.70" y="150.70" width="3.8" height="3.8" fill="#2b7c2e"/>
<rect x="403.50" y="151.50" width="3.8" height="3.8" fill="#2b7c2e"/>
<rect x="408.10" y="148.10" width="3.8" height="3.8" fill="#2b7c2e"/>
<rect x="417.70" y="149.50" width="3.8" height="3.8" fill="#2b7c2e"/>
<rect x="429.10" y="147.50" width="3.8" height="3.8" fill="#2b7c2e"/>
<rect x="428.10" y="151.70" width="3.8" height="3.8" fill="#2b7c2e"/>
<rect x="437.10" y="152.10" width="3.8" height="3.8" fill="#2b7c2e"/>
<rect x="441.10" y="148.10" width="3.8" height="3.8" fill="#2b7c2e"/>
<rect x="452.10" y="149.50" width="3.8" height="3.8" fill="#2b7c2e"/>
<rect x="444.10" y="154.70" width="3.8" height="3.8" fill="#2b7c2e"/>
<rect x="450.10" y="158.10" width="3.8" height="3.8" fill="#2b7c2e"/>
<rect x="471.10" y="156.70" width="3.8" height="3.8" fill="#2b7c2e"/>
<rect x="387.10" y="154.70" width="3.8" height="3.8" fill="#2b7c2e"/>
<rect x="391.10" y="155.50" width="3.8" height="3.8" fill="#2b7c2e"/>
<rect x="397.10" y="154.70" width="3.8" height="3.8" fill="#2b7c2e"/>
<rect x="390.10" y="161.10" width="3.8" height="3.8" fill="#2b7c2e"/>
<rect x="392.10" y="160.10" width="3.8" height="3.8" fill="#2b7c2e"/>
<rect x="389.10" y="163.10" width="3.8" height="3.8" fill="#2b7c2e"/>
<rect x="387.10" y="165.10" width="3.8" height="3.8" fill="#2b7c2e"/>
<rect x="384.10" y="165.50" width="3.8" height="3.8" fill="#2b7c2e"/>
<rect x="379.10" y="169.10" width="3.8" height="3.8" fill="#2b7c2e"/>
<rect x="383.10" y="171.10" width="3.8" height="3.8" fill="#2b7c2e"/>
<rect x="395.10" y="168.10" width="3.8" height="3.8" fill="#2b7c2e"/>
<rect x="392.10" y="170.10" width="3.8" height="3.8" fill="#2b7c2e"/>
<rect x="401.10" y="163.10" width="3.8" height="3.8" fill="#2b7c2e"/>
<rect x="405.10" y="165.10" width="3.8" height="3.8" fill="#2b7c2e"/>
<rect x="407.10" y="161.10" width="3.8" height="3.8" fill="#2b7c2e"/>
<rect x="412.10" y="157.10" width="3.8" height="3.8" fill="#2b7c2e"/>
<rect x="414.10" y="158.70" width="3.8" height="3.8" fill="#2b7c2e"/>
<rect x="411.10" y="161.10" width="3.8" height="3.8" fill="#2b7c2e"/>
<rect x="415.10" y="161.10" width="3.8" height="3.8" fill="#2b7c2e"/>
<rect x="413.10" y="165.10" width="3.8" height="3.8" fill="#2b7c2e"/>
<rect x="403.10" y="168.10" width="3.8" height="3.8" fill="#2b7c2e"/>
<rect x="432.10" y="166.70" width="3.8" height="3.8" fill="#2b7c2e"/>
<rect x="433.10" y="168.70" width="3.8" height="3.8" fill="#2b7c2e"/>
<rect x="385.10" y="174.10" width="3.8" height="3.8" fill="#2b7c2e"/>
<rect x="386.10" y="177.10" width="3.8" height="3.8" fill="#2b7c2e"/>
<rect x="393.50" y="179.10" width="3.8" height="3.8" fill="#2b7c2e"/>
<rect x="408.10" y="177.10" width="3.8" height="3.8" fill="#2b7c2e"/>
<rect x="413.10" y="174.10" width="3.8" height="3.8" fill="#2b7c2e"/>
<rect x="414.10" y="179.10" width="3.8" height="3.8" fill="#2b7c2e"/>
<rect x="418.10" y="178.70" width="3.8" height="3.8" fill="#2b7c2e"/>
<rect x="447.10" y="174.70" width="3.8" height="3.8" fill="#2b7c2e"/>
<rect x="375.10" y="163.10" width="3.8" height="3.8" fill="#2b7c2e"/>
<rect x="309.90" y="133.10" width="3.8" height="3.8" fill="#2b7c2e"/>
<rect x="296.90" y="134.10" width="3.8" height="3.8" fill="#2b7c2e"/>
<rect x="281.90" y="137.50" width="3.8" height="3.8" fill="#2b7c2e"/>
<rect x="302.60" y="141.40" width="3.8" height="3.8" fill="#2b7c2e"/>
<rect x="309.90" y="139.80" width="3.8" height="3.8" fill="#2b7c2e"/>
<rect x="316.20" y="141.90" width="3.8" height="3.8" fill="#2b7c2e"/>
<rect x="318.30" y="140.30" width="3.8" height="3.8" fill="#2b7c2e"/>
<rect x="318.80" y="143.00" width="3.8" height="3.8" fill="#2b7c2e"/>
<rect x="279.60" y="145.30" width="3.8" height="3.8" fill="#2b7c2e"/>
<rect x="285.90" y="147.30" width="3.8" height="3.8" fill="#2b7c2e"/>
<rect x="294.10" y="149.00" width="3.8" height="3.8" fill="#2b7c2e"/>
<rect x="290.10" y="151.80" width="3.8" height="3.8" fill="#2b7c2e"/>
<rect x="290.60" y="153.90" width="3.8" height="3.8" fill="#2b7c2e"/>
<rect x="298.40" y="151.10" width="3.8" height="3.8" fill="#2b7c2e"/>
<rect x="296.90" y="154.40" width="3.8" height="3.8" fill="#2b7c2e"/>
<rect x="294.30" y="156.50" width="3.8" height="3.8" fill="#2b7c2e"/>
<rect x="297.90" y="159.70" width="3.8" height="3.8" fill="#2b7c2e"/>
<rect x="307.90" y="148.10" width="3.8" height="3.8" fill="#2b7c2e"/>
<rect x="306.30" y="151.10" width="3.8" height="3.8" fill="#2b7c2e"/>
<rect x="303.70" y="154.40" width="3.8" height="3.8" fill="#2b7c2e"/>
<rect x="305.20" y="156.50" width="3.8" height="3.8" fill="#2b7c2e"/>
<rect x="307.90" y="158.10" width="3.8" height="3.8" fill="#2b7c2e"/>
<rect x="316.20" y="150.30" width="3.8" height="3.8" fill="#2b7c2e"/>
<rect x="318.80" y="150.80" width="3.8" height="3.8" fill="#2b7c2e"/>
<rect x="315.20" y="154.40" width="3.8" height="3.8" fill="#2b7c2e"/>
<rect x="280.70" y="157.60" width="3.8" height="3.8" fill="#2b7c2e"/>
<rect x="282.80" y="159.10" width="3.8" height="3.8" fill="#2b7c2e"/>
<rect x="321.40" y="158.10" width="3.8" height="3.8" fill="#2b7c2e"/>
<rect x="312.60" y="160.20" width="3.8" height="3.8" fill="#2b7c2e"/>
<rect x="312.10" y="163.30" width="3.8" height="3.8" fill="#2b7c2e"/>
<rect x="313.60" y="165.90" width="3.8" height="3.8" fill="#2b7c2e"/>
<rect x="293.70" y="164.40" width="3.8" height="3.8" fill="#2b7c2e"/>
<rect x="294.30" y="167.50" width="3.8" height="3.8" fill="#2b7c2e"/>
<rect x="293.20" y="170.10" width="3.8" height="3.8" fill="#2b7c2e"/>
<rect x="291.10" y="169.10" width="3.8" height="3.8" fill="#2b7c2e"/>
<rect x="294.10" y="174.30" width="3.8" height="3.8" fill="#2b7c2e"/>
<rect x="302.10" y="164.90" width="3.8" height="3.8" fill="#2b7c2e"/>
<rect x="304.70" y="165.40" width="3.8" height="3.8" fill="#2b7c2e"/>
<rect x="306.80" y="168.10" width="3.8" height="3.8" fill="#2b7c2e"/>
<rect x="308.40" y="170.60" width="3.8" height="3.8" fill="#2b7c2e"/>
<rect x="309.40" y="173.80" width="3.8" height="3.8" fill="#2b7c2e"/>
<rect x="314.60" y="169.10" width="3.8" height="3.8" fill="#2b7c2e"/>
<rect x="319.30" y="171.10" width="3.8" height="3.8" fill="#2b7c2e"/>
<rect x="323.50" y="168.60" width="3.8" height="3.8" fill="#2b7c2e"/>
<rect x="325.60" y="172.20" width="3.8" height="3.8" fill="#2b7c2e"/>
<rect x="273.90" y="168.20" width="3.8" height="3.8" fill="#2b7c2e"/>
<rect x="280.20" y="169.60" width="3.8" height="3.8" fill="#2b7c2e"/>
<rect x="330.40" y="130.40" width="3.8" height="3.8" fill="#2b7c2e"/>
<rect x="328.80" y="133.00" width="3.8" height="3.8" fill="#2b7c2e"/>
<rect x="330.90" y="135.60" width="3.8" height="3.8" fill="#2b7c2e"/>
<rect x="341.40" y="128.30" width="3.8" height="3.8" fill="#2b7c2e"/>
<rect x="345.60" y="134.10" width="3.8" height="3.8" fill="#2b7c2e"/>
<rect x="349.20" y="133.50" width="3.8" height="3.8" fill="#2b7c2e"/>
<rect x="371.20" y="136.10" width="3.8" height="3.8" fill="#2b7c2e"/>
<rect x="356.50" y="136.10" width="3.8" height="3.8" fill="#2b7c2e"/>
<rect x="353.90" y="138.30" width="3.8" height="3.8" fill="#2b7c2e"/>
<rect x="363.90" y="137.20" width="3.8" height="3.8" fill="#2b7c2e"/>
<rect x="362.80" y="139.80" width="3.8" height="3.8" fill="#2b7c2e"/>
<rect x="365.90" y="138.80" width="3.8" height="3.8" fill="#2b7c2e"/>
<rect x="330.40" y="141.90" width="3.8" height="3.8" fill="#2b7c2e"/>
<rect x="334.60" y="142.40" width="3.8" height="3.8" fill="#2b7c2e"/>
<rect x="350.30" y="143.00" width="3.8" height="3.8" fill="#2b7c2e"/>
<rect x="353.40" y="144.00" width="3.8" height="3.8" fill="#2b7c2e"/>
<rect x="356.50" y="143.00" width="3.8" height="3.8" fill="#2b7c2e"/>
<rect x="359.10" y="141.90" width="3.8" height="3.8" fill="#2b7c2e"/>
<rect x="369.10" y="142.40" width="3.8" height="3.8" fill="#2b7c2e"/>
<rect x="341.40" y="145.60" width="3.8" height="3.8" fill="#2b7c2e"/>
<rect x="349.20" y="147.10" width="3.8" height="3.8" fill="#2b7c2e"/>
<rect x="350.80" y="145.60" width="3.8" height="3.8" fill="#2b7c2e"/>
<rect x="363.90" y="145.60" width="3.8" height="3.8" fill="#2b7c2e"/>
<rect x="364.90" y="147.70" width="3.8" height="3.8" fill="#2b7c2e"/>
<rect x="331.50" y="148.20" width="3.8" height="3.8" fill="#2b7c2e"/>
<rect x="337.70" y="150.30" width="3.8" height="3.8" fill="#2b7c2e"/>
<rect x="340.30" y="149.70" width="3.8" height="3.8" fill="#2b7c2e"/>
<rect x="340.90" y="152.40" width="3.8" height="3.8" fill="#2b7c2e"/>
<rect x="327.80" y="152.40" width="3.8" height="3.8" fill="#2b7c2e"/>
<rect x="364.40" y="151.80" width="3.8" height="3.8" fill="#2b7c2e"/>
<rect x="369.10" y="150.30" width="3.8" height="3.8" fill="#2b7c2e"/>
<rect x="371.70" y="149.20" width="3.8" height="3.8" fill="#2b7c2e"/>
<rect x="348.20" y="153.40" width="3.8" height="3.8" fill="#2b7c2e"/>
<rect x="351.80" y="152.90" width="3.8" height="3.8" fill="#2b7c2e"/>
<rect x="355.50" y="153.90" width="3.8" height="3.8" fill="#2b7c2e"/>
<rect x="347.10" y="155.50" width="3.8" height="3.8" fill="#2b7c2e"/>
<rect x="351.30" y="156.50" width="3.8" height="3.8" fill="#2b7c2e"/>
<rect x="336.20" y="156.50" width="3.8" height="3.8" fill="#2b7c2e"/>
<rect x="333.50" y="158.10" width="3.8" height="3.8" fill="#2b7c2e"/>
<rect x="370.60" y="156.50" width="3.8" height="3.8" fill="#2b7c2e"/>
<rect x="363.30" y="157.60" width="3.8" height="3.8" fill="#2b7c2e"/>
<rect x="324.10" y="158.60" width="3.8" height="3.8" fill="#2b7c2e"/>
<rect x="332.00" y="159.70" width="3.8" height="3.8" fill="#2b7c2e"/>
<rect x="345.60" y="159.10" width="3.8" height="3.8" fill="#2b7c2e"/>
<rect x="350.30" y="160.20" width="3.8" height="3.8" fill="#2b7c2e"/>
<rect x="353.40" y="159.10" width="3.8" height="3.8" fill="#2b7c2e"/>
<rect x="357.60" y="159.70" width="3.8" height="3.8" fill="#2b7c2e"/>
<rect x="363.30" y="160.20" width="3.8" height="3.8" fill="#2b7c2e"/>
<rect x="370.60" y="159.70" width="3.8" height="3.8" fill="#2b7c2e"/>
<rect x="325.20" y="163.90" width="3.8" height="3.8" fill="#2b7c2e"/>
<rect x="341.40" y="162.60" width="3.8" height="3.8" fill="#2b7c2e"/>
<rect x="346.60" y="162.80" width="3.8" height="3.8" fill="#2b7c2e"/>
<rect x="351.80" y="162.30" width="3.8" height="3.8" fill="#2b7c2e"/>
<rect x="356.50" y="164.40" width="3.8" height="3.8" fill="#2b7c2e"/>
<rect x="369.60" y="163.30" width="3.8" height="3.8" fill="#2b7c2e"/>
<rect x="372.20" y="165.40" width="3.8" height="3.8" fill="#2b7c2e"/>
<rect x="329.40" y="167.00" width="3.8" height="3.8" fill="#2b7c2e"/>
<rect x="333.50" y="165.90" width="3.8" height="3.8" fill="#2b7c2e"/>
<rect x="336.70" y="167.50" width="3.8" height="3.8" fill="#2b7c2e"/>
<rect x="362.80" y="165.90" width="3.8" height="3.8" fill="#2b7c2e"/>
<rect x="381.60" y="165.90" width="3.8" height="3.8" fill="#2b7c2e"/>
<rect x="330.90" y="170.10" width="3.8" height="3.8" fill="#2b7c2e"/>
<rect x="333.00" y="172.20" width="3.8" height="3.8" fill="#2b7c2e"/>
<rect x="338.80" y="170.60" width="3.8" height="3.8" fill="#2b7c2e"/>
<rect x="347.10" y="169.10" width="3.8" height="3.8" fill="#2b7c2e"/>
<rect x="351.80" y="168.60" width="3.8" height="3.8" fill="#2b7c2e"/>
<rect x="345.60" y="172.20" width="3.8" height="3.8" fill="#2b7c2e"/>
<rect x="359.10" y="171.20" width="3.8" height="3.8" fill="#2b7c2e"/>
<rect x="362.80" y="172.20" width="3.8" height="3.8" fill="#2b7c2e"/>
<rect x="365.90" y="171.70" width="3.8" height="3.8" fill="#2b7c2e"/>
<rect x="369.60" y="169.10" width="3.8" height="3.8" fill="#2b7c2e"/>
<rect x="373.80" y="171.20" width="3.8" height="3.8" fill="#2b7c2e"/>
<rect x="332.50" y="174.80" width="3.8" height="3.8" fill="#2b7c2e"/>
<rect x="335.10" y="177.40" width="3.8" height="3.8" fill="#2b7c2e"/>
<rect x="344.00" y="178.50" width="3.8" height="3.8" fill="#2b7c2e"/>
<rect x="357.60" y="176.90" width="3.8" height="3.8" fill="#2b7c2e"/>
<rect x="363.30" y="175.30" width="3.8" height="3.8" fill="#2b7c2e"/>
<rect x="367.00" y="176.40" width="3.8" height="3.8" fill="#2b7c2e"/>
<rect x="368.60" y="181.10" width="3.8" height="3.8" fill="#2b7c2e"/>
<rect x="335.10" y="180.40" width="3.8" height="3.8" fill="#2b7c2e"/>
<rect x="346.60" y="181.10" width="3.8" height="3.8" fill="#2b7c2e"/>
<rect x="130.70" y="302.10" width="3.8" height="3.8" fill="#2b7c2e"/>
<rect x="127.10" y="307.10" width="3.8" height="3.8" fill="#2b7c2e"/>
<rect x="160.70" y="305.10" width="3.8" height="3.8" fill="#2b7c2e"/>
<rect x="169.10" y="304.10" width="3.8" height="3.8" fill="#2b7c2e"/>
<rect x="170.10" y="298.10" width="3.8" height="3.8" fill="#2b7c2e"/>
<rect x="60.40" y="314.10" width="3.8" height="3.8" fill="#2b7c2e"/>
<rect x="77.30" y="311.80" width="3.8" height="3.8" fill="#2b7c2e"/>
<rect x="76.10" y="315.90" width="3.8" height="3.8" fill="#2b7c2e"/>
<rect x="70.30" y="317.00" width="3.8" height="3.8" fill="#2b7c2e"/>
<rect x="69.10" y="320.50" width="3.8" height="3.8" fill="#2b7c2e"/>
<rect x="94.20" y="313.20" width="3.8" height="3.8" fill="#2b7c2e"/>
<rect x="81.90" y="318.50" width="3.8" height="3.8" fill="#2b7c2e"/>
<rect x="84.90" y="320.50" width="3.8" height="3.8" fill="#2b7c2e"/>
<rect x="87.20" y="321.30" width="3.8" height="3.8" fill="#2b7c2e"/>
<rect x="82.50" y="323.70" width="3.8" height="3.8" fill="#2b7c2e"/>
<rect x="84.90" y="327.00" width="3.8" height="3.8" fill="#2b7c2e"/>
<rect x="83.70" y="328.70" width="3.8" height="3.8" fill="#2b7c2e"/>
<rect x="96.00" y="325.50" width="3.8" height="3.8" fill="#2b7c2e"/>
<rect x="105.30" y="315.90" width="3.8" height="3.8" fill="#2b7c2e"/>
<rect x="106.50" y="319.40" width="3.8" height="3.8" fill="#2b7c2e"/>
<rect x="109.40" y="322.30" width="3.8" height="3.8" fill="#2b7c2e"/>
<rect x="114.60" y="315.30" width="3.8" height="3.8" fill="#2b7c2e"/>
<rect x="58.40" y="327.50" width="3.8" height="3.8" fill="#2b7c2e"/>
<rect x="60.40" y="331.10" width="3.8" height="3.8" fill="#2b7c2e"/>
<rect x="63.30" y="335.10" width="3.8" height="3.8" fill="#2b7c2e"/>
<rect x="66.20" y="330.20" width="3.8" height="3.8" fill="#2b7c2e"/>
<rect x="68.50" y="328.70" width="3.8" height="3.8" fill="#2b7c2e"/>
<rect x="71.40" y="332.20" width="3.8" height="3.8" fill="#2b7c2e"/>
<rect x="70.90" y="334.50" width="3.8" height="3.8" fill="#2b7c2e"/>
<rect x="79.60" y="331.00" width="3.8" height="3.8" fill="#2b7c2e"/>
<rect x="90.10" y="330.50" width="3.8" height="3.8" fill="#2b7c2e"/>
<rect x="87.60" y="333.40" width="3.8" height="3.8" fill="#2b7c2e"/>
<rect x="98.30" y="330.50" width="3.8" height="3.8" fill="#2b7c2e"/>
<rect x="103.00" y="329.30" width="3.8" height="3.8" fill="#2b7c2e"/>
<rect x="105.50" y="327.50" width="3.8" height="3.8" fill="#2b7c2e"/>
<rect x="113.70" y="331.50" width="3.8" height="3.8" fill="#2b7c2e"/>
<rect x="80.20" y="335.70" width="3.8" height="3.8" fill="#2b7c2e"/>
<rect x="76.70" y="338.10" width="3.8" height="3.8" fill="#2b7c2e"/>
<rect x="81.90" y="338.60" width="3.8" height="3.8" fill="#2b7c2e"/>
<rect x="83.70" y="341.00" width="3.8" height="3.8" fill="#2b7c2e"/>
<rect x="86.00" y="342.10" width="3.8" height="3.8" fill="#2b7c2e"/>
<rect x="89.00" y="340.70" width="3.8" height="3.8" fill="#2b7c2e"/>
<rect x="67.40" y="339.20" width="3.8" height="3.8" fill="#2b7c2e"/>
<rect x="70.30" y="340.00" width="3.8" height="3.8" fill="#2b7c2e"/>
<rect x="60.40" y="341.00" width="3.8" height="3.8" fill="#2b7c2e"/>
<rect x="59.00" y="342.70" width="3.8" height="3.8" fill="#2b7c2e"/>
<rect x="102.40" y="338.10" width="3.8" height="3.8" fill="#2b7c2e"/>
<rect x="102.40" y="340.40" width="3.8" height="3.8" fill="#2b7c2e"/>
<rect x="111.10" y="338.10" width="3.8" height="3.8" fill="#2b7c2e"/>
<rect x="110.90" y="340.40" width="3.8" height="3.8" fill="#2b7c2e"/>
<rect x="98.30" y="345.60" width="3.8" height="3.8" fill="#2b7c2e"/>
<rect x="88.40" y="347.70" width="3.8" height="3.8" fill="#2b7c2e"/>
<rect x="76.10" y="350.90" width="3.8" height="3.8" fill="#2b7c2e"/>
<rect x="59.30" y="350.90" width="3.8" height="3.8" fill="#2b7c2e"/>
<rect x="59.00" y="353.80" width="3.8" height="3.8" fill="#2b7c2e"/>
<rect x="66.20" y="356.10" width="3.8" height="3.8" fill="#2b7c2e"/>
<rect x="87.80" y="352.00" width="3.8" height="3.8" fill="#2b7c2e"/>
<rect x="90.10" y="353.20" width="3.8" height="3.8" fill="#2b7c2e"/>
<rect x="85.50" y="355.00" width="3.8" height="3.8" fill="#2b7c2e"/>
<rect x="130.70" y="309.40" width="3.8" height="3.8" fill="#2b7c2e"/>
<rect x="134.40" y="309.40" width="3.8" height="3.8" fill="#2b7c2e"/>
<rect x="129.40" y="315.10" width="3.8" height="3.8" fill="#2b7c2e"/>
<rect x="137.60" y="316.70" width="3.8" height="3.8" fill="#2b7c2e"/>
<rect x="142.00" y="318.20" width="3.8" height="3.8" fill="#2b7c2e"/>
<rect x="137.60" y="320.70" width="3.8" height="3.8" fill="#2b7c2e"/>
<rect x="147.00" y="315.70" width="3.8" height="3.8" fill="#2b7c2e"/>
<rect x="149.50" y="314.40" width="3.8" height="3.8" fill="#2b7c2e"/>
<rect x="147.00" y="320.10" width="3.8" height="3.8" fill="#2b7c2e"/>
<rect x="153.90" y="317.60" width="3.8" height="3.8" fill="#2b7c2e"/>
<rect x="156.40" y="308.80" width="3.8" height="3.8" fill="#2b7c2e"/>
<rect x="159.50" y="312.60" width="3.8" height="3.8" fill="#2b7c2e"/>
<rect x="170.80" y="305.40" width="3.8" height="3.8" fill="#2b7c2e"/>
<rect x="170.80" y="311.90" width="3.8" height="3.8" fill="#2b7c2e"/>
<rect x="125.60" y="323.50" width="3.8" height="3.8" fill="#2b7c2e"/>
<rect x="151.40" y="325.10" width="3.8" height="3.8" fill="#2b7c2e"/>
<rect x="156.40" y="325.70" width="3.8" height="3.8" fill="#2b7c2e"/>
<rect x="168.30" y="324.20" width="3.8" height="3.8" fill="#2b7c2e"/>
<rect x="118.10" y="330.80" width="3.8" height="3.8" fill="#2b7c2e"/>
<rect x="138.20" y="330.10" width="3.8" height="3.8" fill="#2b7c2e"/>
<rect x="143.20" y="330.80" width="3.8" height="3.8" fill="#2b7c2e"/>
<rect x="144.50" y="332.60" width="3.8" height="3.8" fill="#2b7c2e"/>
<rect x="149.50" y="335.50" width="3.8" height="3.8" fill="#2b7c2e"/>
<rect x="160.80" y="332.60" width="3.8" height="3.8" fill="#2b7c2e"/>
<rect x="123.10" y="338.30" width="3.8" height="3.8" fill="#2b7c2e"/>
<rect x="139.40" y="342.10" width="3.8" height="3.8" fill="#2b7c2e"/>
<rect x="171.40" y="337.30" width="3.8" height="3.8" fill="#2b7c2e"/>
<rect x="125.60" y="347.70" width="3.8" height="3.8" fill="#2b7c2e"/>
<rect x="145.50" y="349.00" width="3.8" height="3.8" fill="#2b7c2e"/>
<rect x="178.00" y="309.80" width="3.8" height="3.8" fill="#2b7c2e"/>
<rect x="185.10" y="299.80" width="3.8" height="3.8" fill="#2b7c2e"/>
<rect x="193.70" y="296.70" width="3.8" height="3.8" fill="#2b7c2e"/>
<rect x="184.40" y="308.40" width="3.8" height="3.8" fill="#2b7c2e"/>
<rect x="186.50" y="310.70" width="3.8" height="3.8" fill="#2b7c2e"/>
<rect x="189.40" y="306.70" width="3.8" height="3.8" fill="#2b7c2e"/>
<rect x="192.70" y="305.20" width="3.8" height="3.8" fill="#2b7c2e"/>
<rect x="192.20" y="310.20" width="3.8" height="3.8" fill="#2b7c2e"/>
<rect x="199.80" y="303.10" width="3.8" height="3.8" fill="#2b7c2e"/>
<rect x="207.00" y="299.80" width="3.8" height="3.8" fill="#2b7c2e"/>
<rect x="211.80" y="298.40" width="3.8" height="3.8" fill="#2b7c2e"/>
<rect x="219.00" y="301.70" width="3.8" height="3.8" fill="#2b7c2e"/>
<rect x="222.70" y="296.00" width="3.8" height="3.8" fill="#2b7c2e"/>
<rect x="229.80" y="297.40" width="3.8" height="3.8" fill="#2b7c2e"/>
<rect x="229.80" y="307.00" width="3.8" height="3.8" fill="#2b7c2e"/>
<rect x="216.50" y="308.40" width="3.8" height="3.8" fill="#2b7c2e"/>
<rect x="212.20" y="309.20" width="3.8" height="3.8" fill="#2b7c2e"/>
<rect x="212.20" y="311.20" width="3.8" height="3.8" fill="#2b7c2e"/>
<rect x="208.00" y="312.40" width="3.8" height="3.8" fill="#2b7c2e"/>
<rect x="208.70" y="315.50" width="3.8" height="3.8" fill="#2b7c2e"/>
<rect x="209.80" y="318.40" width="3.8" height="3.8" fill="#2b7c2e"/>
<rect x="213.00" y="320.70" width="3.8" height="3.8" fill="#2b7c2e"/>
<rect x="214.10" y="324.50" width="3.8" height="3.8" fill="#2b7c2e"/>
<rect x="215.10" y="328.40" width="3.8" height="3.8" fill="#2b7c2e"/>
<rect x="223.20" y="326.40" width="3.8" height="3.8" fill="#2b7c2e"/>
<rect x="206.10" y="327.00" width="3.8" height="3.8" fill="#2b7c2e"/>
<rect x="183.70" y="324.10" width="3.8" height="3.8" fill="#2b7c2e"/>
<rect x="189.80" y="325.00" width="3.8" height="3.8" fill="#2b7c2e"/>
<rect x="203.70" y="338.80" width="3.8" height="3.8" fill="#2b7c2e"/>
<rect x="258.10" y="286.70" width="3.8" height="3.8" fill="#2b7c2e"/>
<rect x="252.10" y="292.70" width="3.8" height="3.8" fill="#2b7c2e"/>
<rect x="261.70" y="291.10" width="3.8" height="3.8" fill="#2b7c2e"/>
<rect x="260.10" y="300.70" width="3.8" height="3.8" fill="#2b7c2e"/>
<rect x="322.60" y="297.30" width="3.8" height="3.8" fill="#2b7c2e"/>
<rect x="259.00" y="305.50" width="3.8" height="3.8" fill="#2b7c2e"/>
<rect x="261.60" y="305.50" width="3.8" height="3.8" fill="#2b7c2e"/>
<rect x="260.40" y="303.20" width="3.8" height="3.8" fill="#2b7c2e"/>
<rect x="281.50" y="304.40" width="3.8" height="3.8" fill="#2b7c2e"/>
<rect x="237.10" y="308.40" width="3.8" height="3.8" fill="#2b7c2e"/>
<rect x="249.90" y="306.80" width="3.8" height="3.8" fill="#2b7c2e"/>
<rect x="243.70" y="315.20" width="3.8" height="3.8" fill="#2b7c2e"/>
<rect x="248.90" y="319.40" width="3.8" height="3.8" fill="#2b7c2e"/>
<rect x="234.70" y="320.40" width="3.8" height="3.8" fill="#2b7c2e"/>
<rect x="261.40" y="317.30" width="3.8" height="3.8" fill="#2b7c2e"/>
<rect x="264.60" y="323.20" width="3.8" height="3.8" fill="#2b7c2e"/>
<rect x="292.20" y="303.50" width="3.8" height="3.8" fill="#2b7c2e"/>
<rect x="292.50" y="315.50" width="3.8" height="3.8" fill="#2b7c2e"/>
<rect x="292.50" y="317.60" width="3.8" height="3.8" fill="#2b7c2e"/>
<rect x="58.20" y="418.00" width="3.8" height="3.8" fill="#2b7c2e"/>
<rect x="58.20" y="424.80" width="3.8" height="3.8" fill="#2b7c2e"/>
<rect x="59.30" y="427.40" width="3.8" height="3.8" fill="#2b7c2e"/>
<rect x="76.00" y="419.60" width="3.8" height="3.8" fill="#2b7c2e"/>
<rect x="85.40" y="418.50" width="3.8" height="3.8" fill="#2b7c2e"/>
<rect x="83.30" y="422.20" width="3.8" height="3.8" fill="#2b7c2e"/>
<rect x="90.10" y="420.60" width="3.8" height="3.8" fill="#2b7c2e"/>
<rect x="88.50" y="423.30" width="3.8" height="3.8" fill="#2b7c2e"/>
<rect x="66.10" y="425.30" width="3.8" height="3.8" fill="#2b7c2e"/>
<rect x="71.30" y="426.90" width="3.8" height="3.8" fill="#2b7c2e"/>
<rect x="80.20" y="425.90" width="3.8" height="3.8" fill="#2b7c2e"/>
<rect x="87.00" y="425.90" width="3.8" height="3.8" fill="#2b7c2e"/>
<rect x="88.50" y="427.40" width="3.8" height="3.8" fill="#2b7c2e"/>
<rect x="86.40" y="430.00" width="3.8" height="3.8" fill="#2b7c2e"/>
<rect x="70.80" y="432.10" width="3.8" height="3.8" fill="#2b7c2e"/>
<rect x="67.60" y="433.70" width="3.8" height="3.8" fill="#2b7c2e"/>
<rect x="76.50" y="434.20" width="3.8" height="3.8" fill="#2b7c2e"/>
<rect x="79.10" y="434.70" width="3.8" height="3.8" fill="#2b7c2e"/>
<rect x="81.20" y="431.10" width="3.8" height="3.8" fill="#2b7c2e"/>
<rect x="84.40" y="434.70" width="3.8" height="3.8" fill="#2b7c2e"/>
<rect x="61.40" y="437.90" width="3.8" height="3.8" fill="#2b7c2e"/>
<rect x="64.50" y="437.90" width="3.8" height="3.8" fill="#2b7c2e"/>
<rect x="68.20" y="437.40" width="3.8" height="3.8" fill="#2b7c2e"/>
<rect x="71.30" y="438.40" width="3.8" height="3.8" fill="#2b7c2e"/>
<rect x="68.20" y="440.00" width="3.8" height="3.8" fill="#2b7c2e"/>
<rect x="58.80" y="441.50" width="3.8" height="3.8" fill="#2b7c2e"/>
<rect x="58.20" y="446.80" width="3.8" height="3.8" fill="#2b7c2e"/>
<rect x="68.70" y="447.80" width="3.8" height="3.8" fill="#2b7c2e"/>
<rect x="81.70" y="443.10" width="3.8" height="3.8" fill="#2b7c2e"/>
<rect x="85.40" y="441.50" width="3.8" height="3.8" fill="#2b7c2e"/>
<rect x="87.50" y="445.20" width="3.8" height="3.8" fill="#2b7c2e"/>
<rect x="82.30" y="448.90" width="3.8" height="3.8" fill="#2b7c2e"/>
<rect x="76.00" y="450.90" width="3.8" height="3.8" fill="#2b7c2e"/>
<rect x="69.70" y="455.60" width="3.8" height="3.8" fill="#2b7c2e"/>
<rect x="60.30" y="457.20" width="3.8" height="3.8" fill="#2b7c2e"/>
<rect x="77.00" y="459.80" width="3.8" height="3.8" fill="#2b7c2e"/>
<rect x="90.60" y="436.30" width="3.8" height="3.8" fill="#2b7c2e"/>
<rect x="94.80" y="439.40" width="3.8" height="3.8" fill="#2b7c2e"/>
<rect x="96.40" y="437.90" width="3.8" height="3.8" fill="#2b7c2e"/>
<rect x="98.50" y="435.80" width="3.8" height="3.8" fill="#2b7c2e"/>
<rect x="94.30" y="441.50" width="3.8" height="3.8" fill="#2b7c2e"/>
<rect x="98.50" y="425.90" width="3.8" height="3.8" fill="#2b7c2e"/>
<rect x="102.60" y="426.40" width="3.8" height="3.8" fill="#2b7c2e"/>
<rect x="103.20" y="419.60" width="3.8" height="3.8" fill="#2b7c2e"/>
<rect x="102.60" y="431.10" width="3.8" height="3.8" fill="#2b7c2e"/>
<rect x="105.30" y="437.90" width="3.8" height="3.8" fill="#2b7c2e"/>
<rect x="109.40" y="437.40" width="3.8" height="3.8" fill="#2b7c2e"/>
<rect x="111.50" y="421.70" width="3.8" height="3.8" fill="#2b7c2e"/>
<rect x="111.00" y="427.40" width="3.8" height="3.8" fill="#2b7c2e"/>
<rect x="113.60" y="425.30" width="3.8" height="3.8" fill="#2b7c2e"/>
<rect x="105.80" y="447.80" width="3.8" height="3.8" fill="#2b7c2e"/>
<rect x="114.10" y="444.10" width="3.8" height="3.8" fill="#2b7c2e"/>
<rect x="145.50" y="408.80" width="3.8" height="3.8" fill="#2b7c2e"/>
<rect x="139.70" y="413.50" width="3.8" height="3.8" fill="#2b7c2e"/>
<rect x="125.60" y="419.00" width="3.8" height="3.8" fill="#2b7c2e"/>
<rect x="143.90" y="418.80" width="3.8" height="3.8" fill="#2b7c2e"/>
<rect x="144.40" y="420.90" width="3.8" height="3.8" fill="#2b7c2e"/>
<rect x="149.10" y="422.70" width="3.8" height="3.8" fill="#2b7c2e"/>
<rect x="160.60" y="419.00" width="3.8" height="3.8" fill="#2b7c2e"/>
<rect x="171.10" y="419.60" width="3.8" height="3.8" fill="#2b7c2e"/>
<rect x="118.30" y="425.90" width="3.8" height="3.8" fill="#2b7c2e"/>
<rect x="123.50" y="428.20" width="3.8" height="3.8" fill="#2b7c2e"/>
<rect x="168.50" y="427.30" width="3.8" height="3.8" fill="#2b7c2e"/>
<rect x="128.60" y="433.20" width="3.8" height="3.8" fill="#2b7c2e"/>
<rect x="125.60" y="436.50" width="3.8" height="3.8" fill="#2b7c2e"/>
<rect x="129.60" y="438.60" width="3.8" height="3.8" fill="#2b7c2e"/>
<rect x="138.20" y="432.10" width="3.8" height="3.8" fill="#2b7c2e"/>
<rect x="139.00" y="434.20" width="3.8" height="3.8" fill="#2b7c2e"/>
<rect x="136.90" y="439.10" width="3.8" height="3.8" fill="#2b7c2e"/>
<rect x="138.20" y="440.70" width="3.8" height="3.8" fill="#2b7c2e"/>
<rect x="141.50" y="442.30" width="3.8" height="3.8" fill="#2b7c2e"/>
<rect x="147.10" y="432.40" width="3.8" height="3.8" fill="#2b7c2e"/>
<rect x="147.60" y="434.40" width="3.8" height="3.8" fill="#2b7c2e"/>
<rect x="147.60" y="438.40" width="3.8" height="3.8" fill="#2b7c2e"/>
<rect x="150.20" y="438.40" width="3.8" height="3.8" fill="#2b7c2e"/>
<rect x="152.30" y="432.10" width="3.8" height="3.8" fill="#2b7c2e"/>
<rect x="155.40" y="431.50" width="3.8" height="3.8" fill="#2b7c2e"/>
<rect x="158.00" y="432.40" width="3.8" height="3.8" fill="#2b7c2e"/>
<rect x="159.90" y="434.20" width="3.8" height="3.8" fill="#2b7c2e"/>
<rect x="161.20" y="436.30" width="3.8" height="3.8" fill="#2b7c2e"/>
<rect x="170.40" y="438.10" width="3.8" height="3.8" fill="#2b7c2e"/>
<rect x="126.50" y="444.40" width="3.8" height="3.8" fill="#2b7c2e"/>
<rect x="127.70" y="448.00" width="3.8" height="3.8" fill="#2b7c2e"/>
<rect x="130.30" y="448.60" width="3.8" height="3.8" fill="#2b7c2e"/>
<rect x="134.50" y="447.50" width="3.8" height="3.8" fill="#2b7c2e"/>
<rect x="155.90" y="442.80" width="3.8" height="3.8" fill="#2b7c2e"/>
<rect x="168.50" y="447.50" width="3.8" height="3.8" fill="#2b7c2e"/>
<rect x="170.00" y="450.60" width="3.8" height="3.8" fill="#2b7c2e"/>
<rect x="170.00" y="454.30" width="3.8" height="3.8" fill="#2b7c2e"/>
<rect x="126.70" y="452.20" width="3.8" height="3.8" fill="#2b7c2e"/>
<rect x="130.30" y="459.00" width="3.8" height="3.8" fill="#2b7c2e"/>
<rect x="223.30" y="402.10" width="3.8" height="3.8" fill="#2b7c2e"/>
<rect x="215.30" y="408.00" width="3.8" height="3.8" fill="#2b7c2e"/>
<rect x="213.20" y="412.20" width="3.8" height="3.8" fill="#2b7c2e"/>
<rect x="203.80" y="413.80" width="3.8" height="3.8" fill="#2b7c2e"/>
<rect x="206.20" y="419.50" width="3.8" height="3.8" fill="#2b7c2e"/>
<rect x="213.90" y="418.80" width="3.8" height="3.8" fill="#2b7c2e"/>
<rect x="212.00" y="421.90" width="3.8" height="3.8" fill="#2b7c2e"/>
<rect x="209.90" y="423.70" width="3.8" height="3.8" fill="#2b7c2e"/>
<rect x="184.00" y="424.00" width="3.8" height="3.8" fill="#2b7c2e"/>
<rect x="189.80" y="426.10" width="3.8" height="3.8" fill="#2b7c2e"/>
<rect x="184.80" y="430.50" width="3.8" height="3.8" fill="#2b7c2e"/>
<rect x="208.30" y="428.90" width="3.8" height="3.8" fill="#2b7c2e"/>
<rect x="212.20" y="431.00" width="3.8" height="3.8" fill="#2b7c2e"/>
<rect x="193.00" y="434.90" width="3.8" height="3.8" fill="#2b7c2e"/>
<rect x="192.70" y="437.30" width="3.8" height="3.8" fill="#2b7c2e"/>
<rect x="199.40" y="437.30" width="3.8" height="3.8" fill="#2b7c2e"/>
<rect x="206.60" y="436.20" width="3.8" height="3.8" fill="#2b7c2e"/>
<rect x="211.80" y="439.70" width="3.8" height="3.8" fill="#2b7c2e"/>
<rect x="216.40" y="435.50" width="3.8" height="3.8" fill="#2b7c2e"/>
<rect x="219.30" y="434.10" width="3.8" height="3.8" fill="#2b7c2e"/>
<rect x="177.70" y="438.30" width="3.8" height="3.8" fill="#2b7c2e"/>
<rect x="185.30" y="444.10" width="3.8" height="3.8" fill="#2b7c2e"/>
<rect x="189.50" y="442.80" width="3.8" height="3.8" fill="#2b7c2e"/>
<rect x="222.20" y="444.60" width="3.8" height="3.8" fill="#2b7c2e"/>
<rect x="193.70" y="450.30" width="3.8" height="3.8" fill="#2b7c2e"/>
<rect x="264.40" y="410.00" width="3.8" height="3.8" fill="#2b7c2e"/>
<rect x="234.60" y="414.70" width="3.8" height="3.8" fill="#2b7c2e"/>
<rect x="243.80" y="420.70" width="3.8" height="3.8" fill="#2b7c2e"/>
<rect x="249.00" y="422.40" width="3.8" height="3.8" fill="#2b7c2e"/>
<rect x="261.20" y="417.90" width="3.8" height="3.8" fill="#2b7c2e"/>
<rect x="261.60" y="420.50" width="3.8" height="3.8" fill="#2b7c2e"/>
<rect x="258.60" y="422.40" width="3.8" height="3.8" fill="#2b7c2e"/>
<rect x="249.70" y="426.80" width="3.8" height="3.8" fill="#2b7c2e"/>
<rect x="230.60" y="427.30" width="3.8" height="3.8" fill="#2b7c2e"/>
<rect x="237.20" y="433.00" width="3.8" height="3.8" fill="#2b7c2e"/>
<rect x="260.20" y="432.50" width="3.8" height="3.8" fill="#2b7c2e"/>
<rect x="262.00" y="433.60" width="3.8" height="3.8" fill="#2b7c2e"/>
<rect x="230.60" y="438.50" width="3.8" height="3.8" fill="#2b7c2e"/>
<rect x="262.00" y="441.40" width="3.8" height="3.8" fill="#2b7c2e"/>
<rect x="252.40" y="444.30" width="3.8" height="3.8" fill="#2b7c2e"/>
<rect x="281.10" y="421.30" width="3.8" height="3.8" fill="#2b7c2e"/>
<rect x="258.60" y="447.10" width="3.8" height="3.8" fill="#2b7c2e"/>
<rect x="292.40" y="408.40" width="3.8" height="3.8" fill="#2b7c2e"/>
<rect x="292.40" y="412.60" width="3.8" height="3.8" fill="#2b7c2e"/>
<rect x="292.20" y="423.00" width="3.8" height="3.8" fill="#2b7c2e"/>
<rect x="323.60" y="414.40" width="3.8" height="3.8" fill="#2b7c2e"/>
<rect x="188.30" y="158.70" width="3.4" height="3.4" fill="none" stroke="#2b7c2e" stroke-width="0.9"/>
<rect x="204.90" y="174.30" width="3.4" height="3.4" fill="none" stroke="#2b7c2e" stroke-width="0.9"/>
<rect x="260.30" y="180.30" width="3.4" height="3.4" fill="none" stroke="#2b7c2e" stroke-width="0.9"/>
<rect x="148.30" y="177.90" width="3.4" height="3.4" fill="none" stroke="#2b7c2e" stroke-width="0.9"/>
<rect x="306.00" y="132.90" width="3.4" height="3.4" fill="none" stroke="#2b7c2e" stroke-width="0.9"/>
<rect x="138.30" y="284.30" width="3.4" height="3.4" fill="none" stroke="#2b7c2e" stroke-width="0.9"/>
<rect x="139.00" y="308.10" width="3.4" height="3.4" fill="none" stroke="#2b7c2e" stroke-width="0.9"/>
<rect x="209.60" y="296.20" width="3.4" height="3.4" fill="none" stroke="#2b7c2e" stroke-width="0.9"/>
<rect x="138.40" y="449.10" width="3.4" height="3.4" fill="none" stroke="#2b7c2e" stroke-width="0.9"/>
<rect x="138.40" y="460.30" width="3.4" height="3.4" fill="none" stroke="#2b7c2e" stroke-width="0.9"/>
<rect x="209.60" y="451.80" width="3.4" height="3.4" fill="none" stroke="#2b7c2e" stroke-width="0.9"/>
<circle cx="101.2" cy="79.6" r="2.55" fill="#000"/>
<circle cx="161.4" cy="106.0" r="2.55" fill="#000"/>
<circle cx="179.0" cy="84.0" r="2.55" fill="#000"/>
<circle cx="215.4" cy="110.0" r="2.55" fill="#000"/>
<circle cx="239.6" cy="104.6" r="2.55" fill="#000"/>
<circle cx="251.0" cy="110.6" r="2.55" fill="#000"/>
<circle cx="298.8" cy="98.0" r="2.55" fill="#000"/>
<circle cx="320.3" cy="98.3" r="2.55" fill="#000"/>
<circle cx="288.3" cy="102.2" r="2.55" fill="#000"/>
<circle cx="277.4" cy="113.6" r="2.55" fill="#000"/>
<circle cx="303.8" cy="129.6" r="2.55" fill="#000"/>
<circle cx="343.6" cy="101.6" r="2.55" fill="#000"/>
<circle cx="359.7" cy="104.0" r="2.55" fill="#000"/>
<circle cx="363.2" cy="124.3" r="2.55" fill="#000"/>
<circle cx="365.5" cy="112.7" r="2.55" fill="#000"/>
<circle cx="369.0" cy="113.3" r="2.55" fill="#000"/>
<circle cx="371.9" cy="111.5" r="2.55" fill="#000"/>
<circle cx="376.0" cy="114.0" r="2.55" fill="#000"/>
<circle cx="389.4" cy="125.0" r="2.55" fill="#000"/>
<circle cx="435.5" cy="117.3" r="2.55" fill="#000"/>
<circle cx="475.6" cy="121.4" r="2.55" fill="#000"/>
<circle cx="490.0" cy="124.4" r="2.55" fill="#000"/>
<circle cx="526.0" cy="129.0" r="2.55" fill="#000"/>
<circle cx="158.0" cy="262.0" r="2.55" fill="#000"/>
<circle cx="206.0" cy="228.4" r="2.55" fill="#000"/>
<circle cx="217.4" cy="267.0" r="2.55" fill="#000"/>
<circle cx="248.0" cy="267.4" r="2.55" fill="#000"/>
<circle cx="243.6" cy="293.0" r="2.55" fill="#000"/>
<circle cx="275.0" cy="271.0" r="2.55" fill="#000"/>
<circle cx="299.5" cy="234.7" r="2.55" fill="#000"/>
<circle cx="285.8" cy="260.2" r="2.55" fill="#000"/>
<circle cx="374.0" cy="252.2" r="2.55" fill="#000"/>
<circle cx="344.0" cy="257.5" r="2.55" fill="#000"/>
<circle cx="354.8" cy="284.8" r="2.55" fill="#000"/>
<circle cx="380.5" cy="285.8" r="2.55" fill="#000"/>
<circle cx="414.4" cy="252.6" r="2.55" fill="#000"/>
<circle cx="419.6" cy="256.0" r="2.55" fill="#000"/>
<circle cx="433.6" cy="259.0" r="2.55" fill="#000"/>
<circle cx="390.4" cy="269.0" r="2.55" fill="#000"/>
<circle cx="413.0" cy="271.4" r="2.55" fill="#000"/>
<circle cx="419.6" cy="270.0" r="2.55" fill="#000"/>
<circle cx="460.0" cy="274.6" r="2.55" fill="#000"/>
<circle cx="509.1" cy="281.1" r="2.55" fill="#000"/>
<circle cx="507.0" cy="285.0" r="2.55" fill="#000"/>
<circle cx="547.6" cy="291.0" r="2.55" fill="#000"/>
<circle cx="555.7" cy="317.4" r="2.55" fill="#000"/>
<circle cx="583.9" cy="328.6" r="2.55" fill="#000"/>
<circle cx="392.2" cy="267.3" r="2.55" fill="#000"/>
<circle cx="158.0" cy="497.5" r="2.55" fill="#000"/>
<circle cx="217.0" cy="481.3" r="2.55" fill="#000"/>
<circle cx="206.3" cy="516.3" r="2.55" fill="#000"/>
<circle cx="243.8" cy="454.5" r="2.55" fill="#000"/>
<circle cx="248.8" cy="470.8" r="2.55" fill="#000"/>
<circle cx="285.8" cy="474.5" r="2.55" fill="#000"/>
<circle cx="275.0" cy="462.5" r="2.55" fill="#000"/>
<circle cx="299.4" cy="492.6" r="2.55" fill="#000"/>
<circle cx="380.5" cy="428.7" r="2.55" fill="#000"/>
<circle cx="389.2" cy="435.3" r="2.55" fill="#000"/>
<circle cx="354.7" cy="436.7" r="2.55" fill="#000"/>
<circle cx="374.2" cy="456.3" r="2.55" fill="#000"/>
<circle cx="343.8" cy="459.7" r="2.55" fill="#000"/>
<circle cx="459.7" cy="415.0" r="2.55" fill="#000"/>
<circle cx="412.2" cy="433.3" r="2.55" fill="#000"/>
<circle cx="419.5" cy="436.3" r="2.55" fill="#000"/>
<circle cx="433.3" cy="438.3" r="2.55" fill="#000"/>
<circle cx="419.5" cy="443.0" r="2.55" fill="#000"/>
<circle cx="414.2" cy="449.7" r="2.55" fill="#000"/>
<circle cx="555.2" cy="366.3" r="2.55" fill="#000"/>
<circle cx="547.5" cy="388.0" r="2.55" fill="#000"/>
<circle cx="506.7" cy="398.5" r="2.55" fill="#000"/>
<circle cx="509.0" cy="403.2" r="2.55" fill="#000"/>
<circle cx="392.3" cy="434.0" r="2.55" fill="#000"/>
<circle cx="160.0" cy="93.0" r="4.0" fill="#22e622"/>
<circle cx="233.6" cy="245.6" r="4.0" fill="#22e622"/>
<circle cx="233.3" cy="498.0" r="4.0" fill="#22e622"/>
</svg></body></html>
